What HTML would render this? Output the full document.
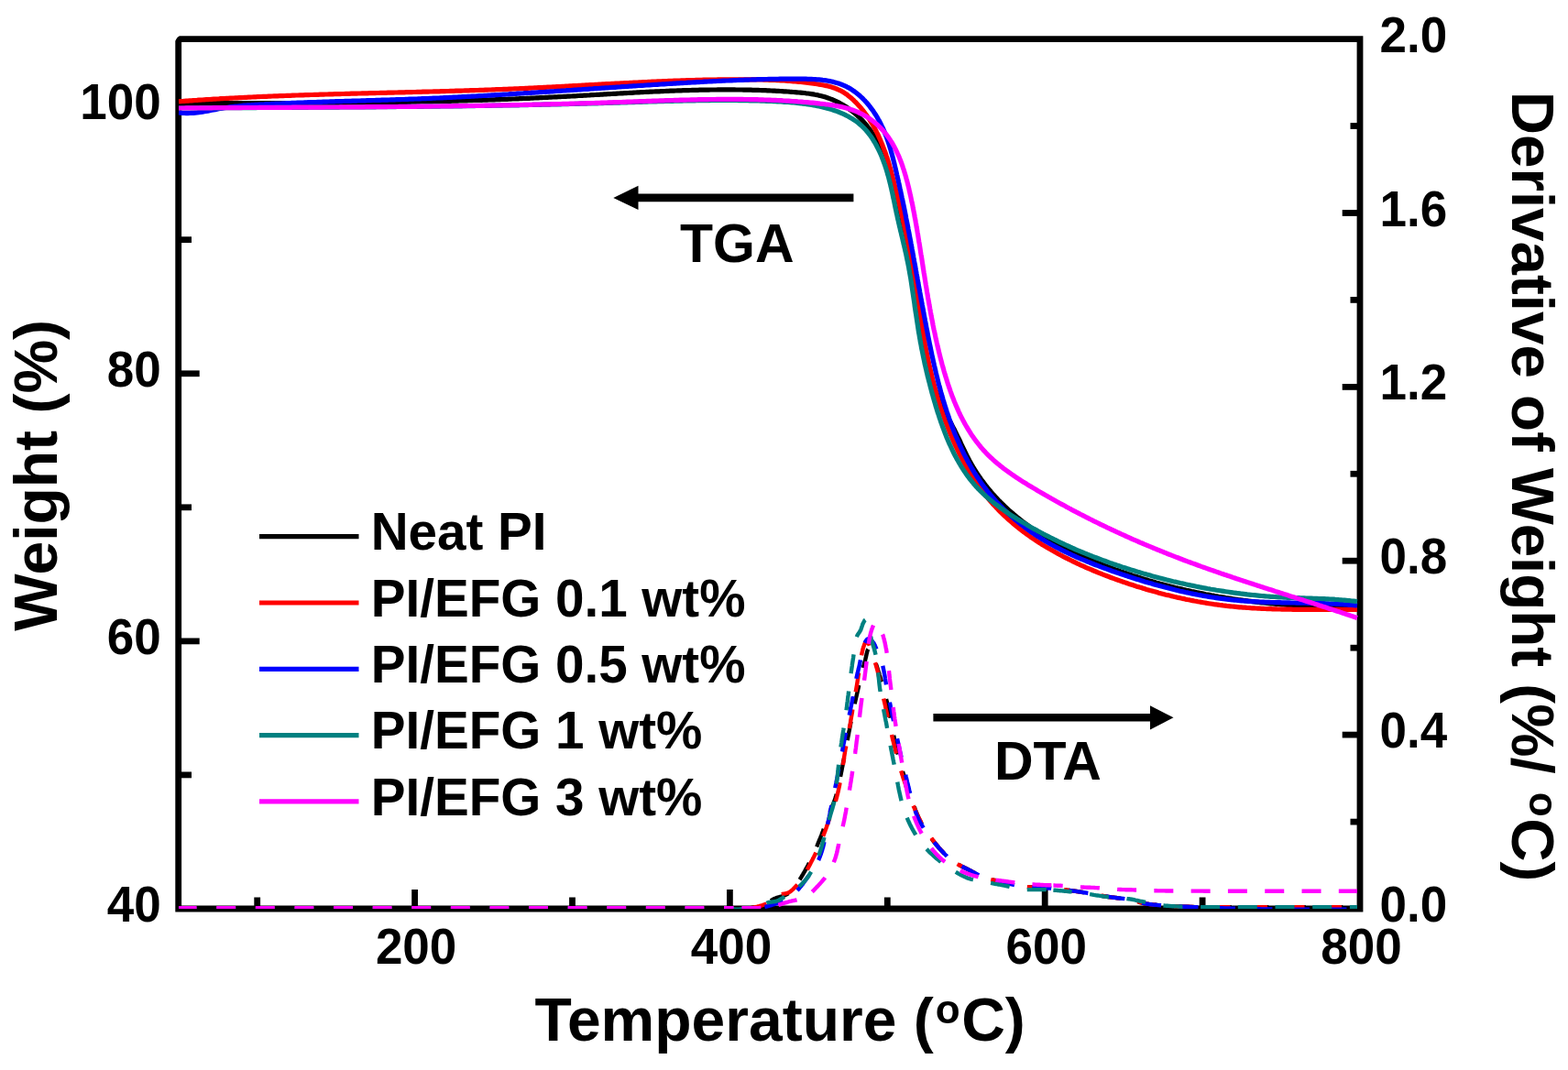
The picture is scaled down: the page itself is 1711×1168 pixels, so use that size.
<!DOCTYPE html><html><head><meta charset="utf-8"><style>html,body{margin:0;padding:0;background:#fff;}svg{display:block}</style></head><body>
<svg width="1711" height="1168" viewBox="0 0 1711 1168">
<rect width="1711" height="1168" fill="#fff"/>
<path d="M194.7,42.6 L1484.0,42.6 L1484.0,992.0 L194.7,992.0 Z" fill="none" stroke="#000" stroke-width="6.8" stroke-linejoin="miter"/>
<path d="M190,38 L197.2,38 Q193,40.5 191.2,44.6 L190,44.6 Z" fill="#fff"/>
<line x1="452.6" y1="992.0" x2="452.6" y2="971.0" stroke="#000" stroke-width="6.8"/>
<line x1="796.4" y1="992.0" x2="796.4" y2="971.0" stroke="#000" stroke-width="6.8"/>
<line x1="1140.2" y1="992.0" x2="1140.2" y2="971.0" stroke="#000" stroke-width="6.8"/>
<line x1="280.7" y1="992.0" x2="280.7" y2="979.5" stroke="#000" stroke-width="6.8"/>
<line x1="624.5" y1="992.0" x2="624.5" y2="979.5" stroke="#000" stroke-width="6.8"/>
<line x1="968.3" y1="992.0" x2="968.3" y2="979.5" stroke="#000" stroke-width="6.8"/>
<line x1="1312.1" y1="992.0" x2="1312.1" y2="979.5" stroke="#000" stroke-width="6.8"/>
<line x1="194.7" y1="699.9" x2="217.7" y2="699.9" stroke="#000" stroke-width="6.8"/>
<line x1="194.7" y1="407.8" x2="217.7" y2="407.8" stroke="#000" stroke-width="6.8"/>
<line x1="194.7" y1="115.6" x2="217.7" y2="115.6" stroke="#000" stroke-width="6.8"/>
<line x1="194.7" y1="845.9" x2="209.0" y2="845.9" stroke="#000" stroke-width="6.8"/>
<line x1="194.7" y1="553.8" x2="209.0" y2="553.8" stroke="#000" stroke-width="6.8"/>
<line x1="194.7" y1="261.7" x2="209.0" y2="261.7" stroke="#000" stroke-width="6.8"/>
<line x1="1484.0" y1="802.1" x2="1464.7" y2="802.1" stroke="#000" stroke-width="6.8"/>
<line x1="1484.0" y1="612.2" x2="1464.7" y2="612.2" stroke="#000" stroke-width="6.8"/>
<line x1="1484.0" y1="422.4" x2="1464.7" y2="422.4" stroke="#000" stroke-width="6.8"/>
<line x1="1484.0" y1="232.5" x2="1464.7" y2="232.5" stroke="#000" stroke-width="6.8"/>
<line x1="1484.0" y1="897.1" x2="1473.5" y2="897.1" stroke="#000" stroke-width="6.8"/>
<line x1="1484.0" y1="707.2" x2="1473.5" y2="707.2" stroke="#000" stroke-width="6.8"/>
<line x1="1484.0" y1="517.3" x2="1473.5" y2="517.3" stroke="#000" stroke-width="6.8"/>
<line x1="1484.0" y1="327.4" x2="1473.5" y2="327.4" stroke="#000" stroke-width="6.8"/>
<line x1="1484.0" y1="137.5" x2="1473.5" y2="137.5" stroke="#000" stroke-width="6.8"/>
<defs><clipPath id="pc"><rect x="194.7" y="42.6" width="1289.3" height="949.4"/></clipPath></defs>
<g clip-path="url(#pc)">
<path d="M195.0,994.6L205.4,994.6L215.6,994.6L225.8,994.6L235.9,994.6L246.0,994.6L255.9,994.6L265.8,994.6L275.6,994.6L285.3,994.6L294.9,994.6L304.4,994.6L313.9,994.6L323.3,994.6L332.6,994.6L341.8,994.6L350.9,994.6L360.0,994.6L368.9,994.6L377.8,994.6L386.6,994.6L395.3,994.6L403.9,994.6L412.5,994.6L420.9,994.6L429.3,994.6L437.6,994.6L445.8,994.6L453.9,994.6L461.9,994.6L469.9,994.6L477.7,994.6L485.5,994.6L493.2,994.6L500.8,994.6L508.3,994.6L515.7,994.6L523.1,994.6L530.3,994.6L537.5,994.6L544.5,994.6L551.5,994.6L558.4,994.6L565.2,994.6L572.0,994.6L578.6,994.6L585.1,994.6L591.6,994.6L598.0,994.6L604.2,994.6L610.4,994.6L616.5,994.6L622.5,994.6L628.4,994.6L634.3,994.6L640.0,994.6L645.7,994.6L651.2,994.6L656.7,994.6L662.0,994.6L667.3,994.6L672.5,994.6L677.6,994.6L682.6,994.6L687.5,994.6L692.3,994.6L697.1,994.6L701.7,994.6L706.2,994.6L710.7,994.6L715.1,994.6L719.3,994.6L723.5,994.6L727.6,994.6L731.5,994.6L735.4,994.6L739.2,994.6L742.9,994.6L746.5,994.6L750.0,994.6L753.4,994.6L756.7,994.6L759.9,994.6L763.1,994.6L766.1,994.6L769.0,994.6L771.8,994.6L774.6,994.6L777.2,994.6L779.8,994.6L782.2,994.6L784.6,994.6L786.8,994.6L789.0,994.6L791.0,994.6L793.0,994.6L794.8,994.5L796.6,994.4L798.4,994.3L800.0,994.2L801.6,994.1L803.1,993.9L804.5,993.7L805.9,993.6L807.3,993.4L808.6,993.2L809.9,992.9L811.1,992.7L812.4,992.5L813.5,992.3L814.7,992.0L815.9,991.8L817.0,991.6L818.2,991.3L819.3,991.1L820.5,990.9L821.6,990.7L822.7,990.5L823.8,990.2L824.9,990.0L825.9,989.8L826.9,989.5L827.9,989.3L828.9,989.0L829.9,988.7L830.8,988.5L831.7,988.2L832.6,987.9L833.5,987.6L834.4,987.2L835.3,986.9L836.1,986.5L836.9,986.1L837.7,985.6L838.4,985.2L839.2,984.7L839.9,984.2L840.6,983.7L841.3,983.2L842.1,982.7L842.8,982.2L843.6,981.7L844.4,981.3L845.2,980.9L846.1,980.6L847.0,980.2L847.9,979.9L848.8,979.6L849.8,979.3L850.8,979.0L851.8,978.8L852.7,978.5L853.7,978.2L854.6,977.9L855.5,977.6L856.4,977.2L857.2,976.9L858.0,976.5L858.8,976.1L859.5,975.7L860.2,975.2L860.9,974.7L861.5,974.2L862.2,973.7L862.8,973.2L863.4,972.6L864.0,972.0L864.6,971.4L865.2,970.8L865.8,970.2L866.4,969.5L867.0,968.9L867.6,968.1L868.1,967.4L868.7,966.6L869.2,965.8L869.8,965.0L870.3,964.1L870.8,963.3L871.4,962.4L871.9,961.5L872.4,960.6L873.0,959.7L873.5,958.8L874.1,957.9L874.6,956.9L875.2,956.0L875.8,955.0L876.4,954.1L876.9,953.1L877.5,952.1L878.1,951.1L878.7,950.0L879.3,949.0L879.8,947.9L880.4,946.9L881.0,945.8L881.6,944.7L882.2,943.6L882.7,942.5L883.3,941.4L883.9,940.3L884.4,939.1L885.0,938.0L885.5,936.8L886.1,935.6L886.7,934.4L887.2,933.2L887.8,932.0L888.4,930.7L888.9,929.5L889.5,928.2L890.0,926.9L890.6,925.7L891.1,924.4L891.7,923.1L892.2,921.8L892.7,920.5L893.3,919.2L893.8,917.9L894.3,916.6L894.9,915.4L895.4,914.1L895.9,912.8L896.4,911.5L896.9,910.1L897.4,908.8L897.9,907.5L898.4,906.1L898.9,904.8L899.4,903.4L899.9,902.1L900.4,900.7L900.9,899.4L901.3,898.0L901.8,896.7L902.3,895.4L902.8,894.1L903.2,892.8L903.7,891.5L904.2,890.3L904.6,889.0L905.1,887.8L905.5,886.6L906.0,885.5L906.4,884.4L906.8,883.3L907.3,882.2L907.7,881.2L908.1,880.1L908.6,879.1L909.0,878.0L909.4,877.0L909.8,875.9L910.2,874.8L910.7,873.7L911.1,872.5L911.5,871.4L911.8,870.1L912.2,868.9L912.6,867.5L913.0,866.2L913.4,864.8L913.7,863.3L914.1,861.8L914.5,860.3L914.8,858.7L915.2,857.1L915.5,855.5L915.9,853.8L916.2,852.2L916.6,850.5L916.9,848.8L917.2,847.0L917.6,845.3L917.9,843.6L918.3,841.8L918.6,840.1L918.9,838.3L919.3,836.5L919.6,834.8L919.9,833.1L920.3,831.3L920.6,829.6L921.0,827.9L921.3,826.2L921.6,824.5L922.0,822.8L922.3,821.1L922.6,819.4L923.0,817.7L923.3,815.9L923.6,814.2L923.9,812.4L924.3,810.7L924.6,808.9L924.9,807.2L925.2,805.4L925.5,803.7L925.9,801.9L926.2,800.2L926.5,798.4L926.9,796.7L927.2,794.9L927.5,793.2L927.9,791.5L928.2,789.7L928.5,788.0L928.9,786.3L929.2,784.5L929.6,782.8L929.9,781.1L930.3,779.4L930.7,777.6L931.0,775.8L931.4,774.0L931.8,772.2L932.2,770.4L932.6,768.6L933.0,766.8L933.4,765.0L933.8,763.2L934.2,761.4L934.6,759.7L935.0,757.9L935.4,756.2L935.8,754.5L936.2,752.8L936.6,751.1L936.9,749.5L937.3,747.9L937.7,746.3L938.0,744.8L938.4,743.3L938.7,741.9L939.1,740.5L939.4,739.2L939.7,737.9L940.0,736.6L940.3,735.4L940.6,734.2L940.9,733.1L941.1,731.9L941.4,730.8L941.7,729.7L942.0,728.6L942.2,727.5L942.5,726.5L942.8,725.5L943.1,724.4L943.3,723.4L943.6,722.4L943.9,721.4L944.2,720.4L944.4,719.3L944.7,718.1L945.0,716.9L945.3,715.6L945.5,714.4L945.8,713.2L946.1,712.1L946.3,711.1L946.6,710.2L946.9,709.4L947.2,708.7L947.5,708.3L947.8,708.0L948.2,708.0L948.5,708.2L948.9,708.6L949.3,709.1L949.7,709.7L950.1,710.4L950.5,711.1L950.9,711.9L951.3,712.7L951.7,713.4L952.1,714.1L952.4,714.8L952.7,715.6L953.1,716.4L953.4,717.2L953.7,718.0L954.0,718.9L954.3,719.8L954.6,720.7L954.9,721.6L955.2,722.5L955.4,723.3L955.7,724.2L956.0,725.1L956.3,725.9L956.6,726.7L956.8,727.5L957.1,728.2L957.3,729.0L957.6,729.8L957.8,730.6L958.1,731.4L958.4,732.2L958.6,733.1L958.9,734.0L959.2,735.0L959.5,736.0L959.8,737.1L960.2,738.3L960.6,739.6L960.9,740.9L961.3,742.2L961.7,743.6L962.2,745.1L962.6,746.6L963.0,748.1L963.5,749.7L963.9,751.3L964.4,753.0L964.8,754.6L965.3,756.3L965.7,758.0L966.1,759.7L966.6,761.4L967.0,763.1L967.5,764.8L967.9,766.5L968.3,768.1L968.7,769.8L969.1,771.4L969.4,773.0L969.8,774.6L970.1,776.3L970.5,777.9L970.8,779.6L971.2,781.2L971.5,782.9L971.8,784.6L972.1,786.3L972.4,788.0L972.7,789.7L973.0,791.4L973.4,793.1L973.7,794.8L974.0,796.5L974.3,798.2L974.6,799.9L974.9,801.6L975.3,803.3L975.6,805.1L976.0,806.8L976.3,808.5L976.7,810.2L977.0,811.9L977.4,813.6L977.8,815.3L978.2,817.0L978.6,818.8L979.1,820.5L979.5,822.2L980.0,823.9L980.4,825.7L980.9,827.4L981.3,829.1L981.8,830.9L982.3,832.6L982.8,834.4L983.3,836.1L983.8,837.8L984.3,839.6L984.8,841.3L985.3,843.0L985.8,844.8L986.4,846.5L986.9,848.2L987.4,849.9L988.0,851.6L988.5,853.3L989.0,855.0L989.6,856.6L990.1,858.3L990.6,859.9L991.2,861.6L991.7,863.2L992.3,864.9L992.8,866.5L993.3,868.1L993.9,869.8L994.4,871.4L995.0,873.0L995.5,874.6L996.1,876.3L996.6,877.9L997.2,879.5L997.8,881.0L998.3,882.6L998.9,884.2L999.5,885.8L1000.2,887.3L1000.8,888.9L1001.5,890.4L1002.1,891.9L1002.8,893.5L1003.5,895.0L1004.2,896.4L1004.9,897.9L1005.7,899.4L1006.5,900.9L1007.4,902.4L1008.3,903.9L1009.3,905.4L1010.3,907.0L1011.3,908.5L1012.4,910.1L1013.5,911.6L1014.7,913.2L1015.8,914.7L1017.0,916.2L1018.1,917.7L1019.3,919.2L1020.5,920.6L1021.6,922.1L1022.8,923.4L1023.9,924.7L1025.0,926.0L1026.1,927.2L1027.2,928.4L1028.2,929.5L1029.1,930.5L1030.1,931.5L1030.9,932.3L1031.7,933.1L1032.5,933.9L1033.2,934.5L1033.8,935.2L1034.5,935.8L1035.1,936.3L1035.7,936.9L1036.3,937.4L1036.9,937.9L1037.5,938.4L1038.1,938.9L1038.8,939.4L1039.5,940.0L1040.3,940.5L1041.1,941.1L1042.0,941.6L1042.9,942.2L1043.8,942.7L1044.8,943.2L1045.7,943.8L1046.8,944.3L1047.8,944.8L1048.8,945.4L1049.9,945.9L1051.0,946.4L1052.0,947.0L1053.1,947.5L1054.2,948.0L1055.3,948.6L1056.4,949.1L1057.4,949.7L1058.5,950.3L1059.7,950.9L1060.8,951.5L1062.0,952.1L1063.2,952.7L1064.4,953.4L1065.6,954.0L1066.8,954.6L1068.0,955.3L1069.3,955.9L1070.5,956.5L1071.7,957.0L1072.8,957.5L1074.0,958.0L1075.1,958.5L1076.3,958.9L1077.4,959.3L1078.4,959.6L1079.4,959.8L1080.4,960.0L1081.4,960.2L1082.3,960.4L1083.2,960.6L1084.1,960.7L1085.0,960.9L1085.9,961.0L1086.8,961.2L1087.7,961.3L1088.6,961.5L1089.6,961.6L1090.6,961.8L1091.6,962.0L1092.7,962.3L1093.9,962.5L1095.0,962.8L1096.3,963.1L1097.5,963.5L1098.8,963.8L1100.1,964.2L1101.4,964.6L1102.7,965.0L1104.1,965.3L1105.4,965.7L1106.8,966.1L1108.1,966.4L1109.5,966.7L1110.8,967.0L1112.2,967.3L1113.5,967.6L1114.8,967.8L1116.1,967.9L1117.3,968.0L1118.5,968.1L1119.7,968.2L1120.9,968.3L1122.1,968.3L1123.3,968.4L1124.5,968.4L1125.7,968.5L1126.8,968.5L1128.0,968.6L1129.2,968.6L1130.4,968.6L1131.5,968.7L1132.7,968.7L1133.9,968.8L1135.1,968.9L1136.3,968.9L1137.5,969.0L1138.7,969.1L1139.9,969.1L1141.1,969.2L1142.3,969.3L1143.5,969.4L1144.8,969.5L1146.0,969.7L1147.3,969.8L1148.5,969.9L1149.7,970.0L1151.0,970.1L1152.2,970.3L1153.4,970.4L1154.7,970.5L1155.9,970.6L1157.1,970.8L1158.4,970.9L1159.6,971.1L1160.8,971.2L1162.0,971.3L1163.2,971.5L1164.4,971.6L1165.6,971.8L1166.7,971.9L1167.9,972.1L1169.1,972.2L1170.3,972.4L1171.4,972.5L1172.6,972.7L1173.8,972.9L1175.0,973.0L1176.2,973.2L1177.4,973.4L1178.7,973.6L1179.9,973.8L1181.2,974.0L1182.5,974.2L1183.8,974.4L1185.1,974.6L1186.5,974.8L1187.8,975.1L1189.2,975.3L1190.6,975.6L1192.0,975.9L1193.4,976.1L1194.9,976.4L1196.3,976.7L1197.7,976.9L1199.1,977.2L1200.5,977.4L1201.9,977.7L1203.3,978.0L1204.7,978.2L1206.1,978.4L1207.4,978.6L1208.8,978.9L1210.1,979.1L1211.4,979.2L1212.7,979.4L1214.0,979.6L1215.3,979.7L1216.6,979.9L1217.9,980.0L1219.1,980.2L1220.4,980.3L1221.7,980.5L1222.9,980.6L1224.2,980.8L1225.4,980.9L1226.6,981.1L1227.8,981.2L1229.1,981.4L1230.2,981.6L1231.4,981.8L1232.6,981.9L1233.8,982.2L1234.9,982.4L1236.0,982.7L1237.1,983.0L1238.2,983.3L1239.3,983.6L1240.4,983.9L1241.5,984.2L1242.5,984.6L1243.6,984.9L1244.6,985.2L1245.7,985.5L1246.8,985.8L1247.9,986.0L1248.9,986.3L1250.0,986.5L1251.2,986.6L1252.3,986.8L1253.4,986.9L1254.5,987.1L1255.6,987.2L1256.7,987.3L1257.8,987.5L1258.9,987.6L1260.0,987.7L1261.2,987.8L1262.3,987.9L1263.4,988.0L1264.6,988.1L1265.8,988.2L1266.9,988.3L1268.1,988.4L1269.3,988.5L1270.5,988.5L1271.7,988.6L1273.0,988.7L1274.2,988.8L1275.4,988.9L1276.7,989.0L1277.9,989.0L1279.2,989.1L1280.4,989.2L1281.7,989.3L1283.0,989.3L1284.3,989.4L1285.6,989.5L1287.0,989.5L1288.3,989.6L1289.7,989.6L1291.1,989.7L1292.5,989.7L1294.0,989.8L1295.5,989.8L1297.0,989.8L1298.5,989.9L1300.0,989.9L1301.5,989.9L1303.0,990.0L1304.6,990.0L1306.1,990.0L1307.7,990.0L1309.3,990.1L1311.0,990.1L1312.6,990.1L1314.3,990.1L1316.0,990.2L1317.7,990.2L1319.5,990.2L1321.2,990.2L1323.1,990.2L1324.9,990.2L1326.8,990.3L1328.7,990.3L1330.7,990.3L1332.7,990.3L1334.7,990.3L1336.8,990.3L1339.0,990.3L1341.1,990.3L1343.4,990.3L1345.6,990.3L1347.9,990.3L1350.3,990.3L1352.7,990.3L1355.1,990.3L1357.6,990.3L1360.1,990.3L1362.6,990.3L1365.2,990.3L1367.9,990.3L1370.6,990.3L1373.3,990.3L1376.0,990.3L1378.8,990.3L1381.7,990.3L1384.6,990.3L1387.5,990.3L1390.5,990.3L1393.5,990.3L1396.5,990.3L1399.6,990.3L1402.7,990.3L1405.9,990.3L1409.1,990.3L1412.3,990.3L1415.6,990.3L1418.9,990.3L1422.3,990.3L1425.7,990.3L1429.1,990.3L1432.6,990.3L1436.1,990.3L1439.6,990.3L1443.2,990.3L1446.8,990.3L1450.5,990.3L1454.1,990.3L1457.9,990.3L1461.6,990.3L1465.4,990.3L1469.3,990.3L1473.1,990.3L1477.1,990.3L1481.0,990.3" fill="none" stroke="#000000" stroke-width="4.4" stroke-dasharray="21.0 19.5" stroke-dashoffset="0.0" stroke-linecap="butt" stroke-linejoin="round"/>
<path d="M195.0,994.6L205.8,994.6L216.4,994.6L227.0,994.6L237.5,994.6L248.0,994.6L258.3,994.6L268.5,994.6L278.7,994.6L288.7,994.6L298.7,994.6L308.6,994.6L318.4,994.6L328.1,994.6L337.7,994.6L347.3,994.6L356.7,994.6L366.0,994.6L375.3,994.6L384.5,994.6L393.5,994.6L402.5,994.6L411.4,994.6L420.2,994.6L428.9,994.6L437.5,994.6L446.1,994.6L454.5,994.6L462.9,994.6L471.1,994.6L479.3,994.6L487.3,994.6L495.3,994.6L503.2,994.6L510.9,994.6L518.6,994.6L526.2,994.6L533.7,994.6L541.1,994.6L548.4,994.6L555.6,994.6L562.8,994.6L569.8,994.6L576.7,994.6L583.5,994.6L590.3,994.6L596.9,994.6L603.5,994.6L609.9,994.6L616.2,994.6L622.5,994.6L628.6,994.6L634.7,994.6L640.7,994.6L646.5,994.6L652.3,994.6L657.9,994.6L663.5,994.6L669.0,994.6L674.3,994.6L679.6,994.6L684.8,994.6L689.8,994.6L694.8,994.6L699.6,994.6L704.4,994.6L709.1,994.6L713.6,994.6L718.1,994.6L722.5,994.6L726.7,994.6L730.9,994.6L734.9,994.6L738.9,994.6L742.7,994.6L746.5,994.6L750.1,994.6L753.6,994.6L757.1,994.6L760.4,994.6L763.6,994.6L766.8,994.6L769.8,994.6L772.7,994.6L775.5,994.6L778.2,994.6L780.8,994.6L783.3,994.6L785.7,994.6L788.0,994.6L790.2,994.6L792.3,994.6L794.2,994.5L796.1,994.5L797.9,994.4L799.7,994.2L801.3,994.1L802.9,993.9L804.4,993.8L805.9,993.6L807.3,993.4L808.7,993.1L810.0,992.9L811.3,992.7L812.5,992.5L813.8,992.2L815.0,992.0L816.2,991.7L817.4,991.5L818.6,991.3L819.8,991.0L821.0,990.8L822.1,990.6L823.2,990.4L824.3,990.1L825.4,989.9L826.4,989.7L827.5,989.4L828.5,989.2L829.4,988.9L830.4,988.6L831.4,988.3L832.4,988.0L833.3,987.6L834.3,987.3L835.3,986.9L836.3,986.4L837.2,985.9L838.2,985.2L839.2,984.5L840.1,983.8L841.1,983.0L842.0,982.2L843.0,981.4L843.9,980.6L844.8,979.9L845.8,979.2L846.7,978.5L847.6,977.9L848.5,977.5L849.4,977.1L850.3,976.8L851.2,976.5L852.1,976.3L853.0,976.1L853.9,975.9L854.8,975.8L855.7,975.6L856.5,975.5L857.4,975.3L858.2,975.1L859.0,974.8L859.8,974.6L860.5,974.3L861.3,973.9L862.0,973.5L862.7,973.0L863.4,972.4L864.0,971.9L864.7,971.3L865.3,970.7L866.0,970.0L866.6,969.4L867.3,968.7L867.9,968.1L868.6,967.4L869.2,966.7L869.9,965.9L870.6,965.1L871.2,964.3L871.9,963.5L872.5,962.6L873.2,961.7L873.8,960.8L874.4,959.9L875.0,959.0L875.6,958.1L876.2,957.2L876.8,956.3L877.3,955.5L877.9,954.6L878.4,953.7L878.9,952.8L879.4,952.0L879.9,951.1L880.4,950.2L880.9,949.3L881.3,948.4L881.8,947.5L882.3,946.6L882.8,945.6L883.3,944.7L883.8,943.7L884.3,942.7L884.8,941.7L885.4,940.7L885.9,939.6L886.5,938.5L887.0,937.4L887.6,936.3L888.2,935.2L888.7,934.1L889.3,932.9L889.8,931.8L890.4,930.7L890.9,929.5L891.4,928.4L892.0,927.3L892.5,926.2L893.0,925.1L893.5,924.0L893.9,922.9L894.4,921.8L894.9,920.8L895.3,919.7L895.8,918.6L896.2,917.6L896.6,916.5L897.1,915.4L897.5,914.4L897.9,913.3L898.4,912.2L898.8,911.1L899.2,910.1L899.6,909.0L900.1,907.9L900.5,906.7L900.9,905.6L901.3,904.5L901.7,903.4L902.1,902.2L902.5,901.1L902.9,899.9L903.3,898.8L903.7,897.6L904.1,896.5L904.5,895.3L904.9,894.2L905.3,893.0L905.7,891.8L906.1,890.7L906.5,889.5L906.9,888.3L907.3,887.1L907.8,886.0L908.2,884.8L908.6,883.6L909.0,882.5L909.4,881.3L909.9,880.1L910.3,878.9L910.7,877.8L911.1,876.6L911.5,875.4L911.9,874.1L912.3,872.9L912.6,871.7L913.0,870.5L913.3,869.2L913.6,867.9L914.0,866.6L914.3,865.3L914.6,864.0L914.9,862.6L915.2,861.3L915.5,859.9L915.8,858.5L916.1,857.1L916.3,855.7L916.6,854.3L916.9,852.9L917.1,851.5L917.4,850.2L917.6,848.8L917.9,847.4L918.1,846.0L918.4,844.7L918.6,843.4L918.8,842.0L919.0,840.7L919.3,839.4L919.5,838.1L919.7,836.8L919.8,835.6L920.0,834.3L920.2,833.0L920.4,831.7L920.6,830.5L920.8,829.2L920.9,827.9L921.1,826.7L921.3,825.4L921.5,824.2L921.7,822.9L921.9,821.7L922.1,820.4L922.3,819.2L922.5,818.0L922.8,816.8L923.0,815.6L923.2,814.4L923.4,813.3L923.7,812.1L923.9,810.9L924.1,809.8L924.4,808.6L924.6,807.4L924.8,806.2L925.1,804.9L925.3,803.7L925.6,802.4L925.8,801.0L926.1,799.7L926.3,798.3L926.6,796.8L926.8,795.3L927.1,793.7L927.4,792.1L927.7,790.5L928.0,788.8L928.2,787.2L928.5,785.5L928.8,783.8L929.1,782.1L929.4,780.4L929.7,778.7L930.0,777.0L930.2,775.3L930.5,773.7L930.8,772.1L931.1,770.5L931.3,768.9L931.6,767.5L931.8,766.0L932.1,764.6L932.3,763.3L932.5,762.0L932.7,760.8L933.0,759.5L933.2,758.3L933.4,757.1L933.6,756.0L933.8,754.8L934.0,753.7L934.2,752.5L934.4,751.4L934.6,750.2L934.8,749.0L935.0,747.9L935.2,746.7L935.4,745.4L935.6,744.2L935.8,742.9L936.0,741.6L936.2,740.3L936.4,739.0L936.6,737.6L936.8,736.3L937.0,734.9L937.2,733.6L937.4,732.3L937.6,730.9L937.8,729.6L938.0,728.3L938.2,727.0L938.4,725.8L938.6,724.5L938.8,723.3L939.0,722.1L939.2,721.0L939.4,719.8L939.6,718.7L939.8,717.5L940.0,716.4L940.1,715.3L940.3,714.2L940.5,713.1L940.7,712.1L941.0,711.0L941.2,710.1L941.4,709.1L941.6,708.3L941.9,707.4L942.1,706.6L942.4,705.8L942.7,705.0L943.0,704.1L943.3,703.3L943.6,702.6L943.9,702.0L944.3,701.5L944.6,701.1L945.0,701.0L945.4,701.1L945.8,701.2L946.3,701.5L946.8,701.8L947.2,702.2L947.6,702.6L948.0,703.0L948.2,703.4L948.5,703.9L948.7,704.5L948.9,705.1L949.0,705.8L949.2,706.5L949.4,707.3L949.6,708.1L949.8,708.9L950.1,709.7L950.4,710.6L950.7,711.5L951.0,712.4L951.4,713.4L951.7,714.4L952.1,715.4L952.5,716.5L953.0,717.6L953.4,718.7L953.8,719.9L954.2,721.1L954.6,722.3L955.0,723.5L955.5,724.8L955.8,726.1L956.2,727.4L956.6,728.8L957.0,730.2L957.4,731.7L957.8,733.2L958.1,734.7L958.5,736.3L958.9,738.0L959.3,739.6L959.7,741.3L960.0,743.1L960.4,744.8L960.8,746.6L961.2,748.3L961.6,750.1L961.9,751.9L962.3,753.7L962.7,755.5L963.1,757.3L963.5,759.1L963.9,760.9L964.2,762.6L964.6,764.4L965.0,766.1L965.4,767.8L965.8,769.5L966.2,771.3L966.5,773.0L966.9,774.7L967.3,776.5L967.7,778.2L968.1,780.0L968.4,781.7L968.8,783.5L969.2,785.3L969.6,787.0L970.0,788.8L970.4,790.6L970.8,792.3L971.2,794.1L971.5,795.9L971.9,797.6L972.4,799.4L972.8,801.2L973.2,802.9L973.6,804.7L974.0,806.4L974.4,808.2L974.9,809.9L975.3,811.7L975.7,813.4L976.2,815.2L976.6,816.9L977.1,818.6L977.5,820.4L977.9,822.1L978.4,823.8L978.8,825.6L979.3,827.3L979.8,829.0L980.2,830.8L980.7,832.5L981.2,834.2L981.7,836.0L982.2,837.7L982.7,839.5L983.2,841.2L983.7,843.0L984.2,844.7L984.8,846.5L985.3,848.2L985.9,850.0L986.5,851.8L987.1,853.5L987.7,855.3L988.3,857.1L988.9,859.0L989.5,860.8L990.2,862.7L990.9,864.5L991.5,866.4L992.2,868.2L992.9,870.1L993.6,871.9L994.3,873.8L995.1,875.6L995.8,877.5L996.5,879.3L997.3,881.1L998.1,883.0L998.9,884.8L999.7,886.5L1000.5,888.3L1001.3,890.0L1002.1,891.7L1002.9,893.4L1003.8,895.1L1004.7,896.7L1005.5,898.3L1006.4,899.9L1007.4,901.6L1008.4,903.2L1009.4,904.8L1010.5,906.5L1011.6,908.1L1012.7,909.8L1013.8,911.4L1015.0,913.1L1016.2,914.7L1017.4,916.3L1018.6,917.8L1019.8,919.4L1020.9,920.9L1022.1,922.3L1023.3,923.7L1024.4,925.1L1025.5,926.4L1026.6,927.6L1027.6,928.8L1028.6,929.9L1029.6,931.0L1030.5,931.9L1031.4,932.8L1032.2,933.6L1032.9,934.3L1033.6,935.0L1034.3,935.6L1034.9,936.2L1035.5,936.8L1036.2,937.3L1036.8,937.8L1037.4,938.4L1038.1,938.9L1038.8,939.4L1039.5,940.0L1040.4,940.5L1041.2,941.1L1042.1,941.7L1043.1,942.3L1044.0,942.8L1045.0,943.4L1046.1,943.9L1047.1,944.5L1048.2,945.1L1049.3,945.6L1050.4,946.2L1051.5,946.7L1052.6,947.3L1053.8,947.8L1054.9,948.4L1056.0,948.9L1057.1,949.5L1058.3,950.1L1059.4,950.7L1060.6,951.4L1061.9,952.0L1063.1,952.7L1064.3,953.3L1065.6,954.0L1066.9,954.7L1068.1,955.3L1069.4,955.9L1070.6,956.5L1071.9,957.1L1073.1,957.7L1074.3,958.2L1075.5,958.6L1076.6,959.0L1077.8,959.4L1078.9,959.7L1079.9,959.9L1080.9,960.1L1081.9,960.3L1082.8,960.5L1083.8,960.7L1084.7,960.8L1085.6,961.0L1086.6,961.1L1087.5,961.3L1088.5,961.4L1089.5,961.6L1090.5,961.8L1091.6,962.0L1092.7,962.3L1093.9,962.5L1095.1,962.8L1096.4,963.2L1097.7,963.5L1099.0,963.9L1100.4,964.3L1101.7,964.7L1103.1,965.1L1104.5,965.5L1106.0,965.9L1107.4,966.2L1108.8,966.6L1110.2,966.9L1111.6,967.2L1112.9,967.5L1114.3,967.7L1115.6,967.9L1116.9,968.0L1118.2,968.1L1119.5,968.2L1120.7,968.2L1122.0,968.3L1123.2,968.4L1124.4,968.4L1125.7,968.5L1126.9,968.5L1128.1,968.6L1129.3,968.6L1130.5,968.7L1131.7,968.7L1133.0,968.8L1134.2,968.8L1135.4,968.9L1136.7,968.9L1137.9,969.0L1139.2,969.1L1140.4,969.2L1141.7,969.3L1143.0,969.4L1144.3,969.5L1145.5,969.6L1146.8,969.7L1148.1,969.8L1149.4,970.0L1150.7,970.1L1152.0,970.2L1153.3,970.4L1154.6,970.5L1155.8,970.6L1157.1,970.8L1158.4,970.9L1159.7,971.1L1160.9,971.2L1162.2,971.3L1163.4,971.5L1164.6,971.6L1165.9,971.8L1167.1,972.0L1168.3,972.1L1169.5,972.3L1170.7,972.4L1172.0,972.6L1173.2,972.8L1174.5,973.0L1175.7,973.2L1177.0,973.3L1178.2,973.5L1179.5,973.7L1180.9,973.9L1182.2,974.1L1183.6,974.3L1184.9,974.6L1186.3,974.8L1187.8,975.1L1189.2,975.3L1190.7,975.6L1192.1,975.9L1193.6,976.1L1195.1,976.4L1196.5,976.7L1198.0,977.0L1199.5,977.3L1200.9,977.5L1202.4,977.8L1203.8,978.0L1205.3,978.3L1206.7,978.5L1208.1,978.8L1209.5,979.0L1210.8,979.2L1212.2,979.3L1213.5,979.5L1214.9,979.7L1216.2,979.9L1217.6,980.0L1218.9,980.2L1220.2,980.3L1221.5,980.5L1222.8,980.6L1224.1,980.8L1225.4,980.9L1226.7,981.1L1228.0,981.2L1229.2,981.4L1230.5,981.6L1231.7,981.8L1232.9,982.0L1234.1,982.2L1235.3,982.5L1236.4,982.8L1237.6,983.1L1238.7,983.4L1239.8,983.7L1241.0,984.1L1242.1,984.4L1243.2,984.7L1244.3,985.1L1245.4,985.4L1246.5,985.7L1247.6,986.0L1248.7,986.2L1249.9,986.4L1251.0,986.6L1252.2,986.8L1253.3,986.9L1254.5,987.1L1255.6,987.2L1256.8,987.4L1258.0,987.5L1259.1,987.6L1260.3,987.7L1261.5,987.8L1262.6,987.9L1263.8,988.0L1265.0,988.1L1266.2,988.2L1267.5,988.3L1268.7,988.4L1270.0,988.5L1271.2,988.6L1272.5,988.7L1273.8,988.8L1275.0,988.8L1276.3,988.9L1277.6,989.0L1278.9,989.1L1280.2,989.2L1281.6,989.3L1282.9,989.3L1284.3,989.4L1285.6,989.5L1287.0,989.5L1288.4,989.6L1289.9,989.6L1291.3,989.7L1292.8,989.7L1294.3,989.8L1295.9,989.8L1297.4,989.8L1299.0,989.9L1300.6,989.9L1302.2,989.9L1303.8,990.0L1305.4,990.0L1307.0,990.0L1308.7,990.1L1310.4,990.1L1312.1,990.1L1313.8,990.1L1315.6,990.2L1317.4,990.2L1319.2,990.2L1321.0,990.2L1322.9,990.2L1324.9,990.2L1326.8,990.3L1328.8,990.3L1330.9,990.3L1332.9,990.3L1335.1,990.3L1337.3,990.3L1339.5,990.3L1341.8,990.3L1344.1,990.3L1346.5,990.3L1348.9,990.3L1351.3,990.3L1353.8,990.3L1356.4,990.3L1359.0,990.3L1361.6,990.3L1364.3,990.3L1367.0,990.3L1369.8,990.3L1372.6,990.3L1375.5,990.3L1378.4,990.3L1381.4,990.3L1384.4,990.3L1387.4,990.3L1390.5,990.3L1393.6,990.3L1396.8,990.3L1400.0,990.3L1403.2,990.3L1406.5,990.3L1409.9,990.3L1413.2,990.3L1416.7,990.3L1420.1,990.3L1423.6,990.3L1427.2,990.3L1430.7,990.3L1434.4,990.3L1438.0,990.3L1441.7,990.3L1445.5,990.3L1449.3,990.3L1453.1,990.3L1457.0,990.3L1460.9,990.3L1464.8,990.3L1468.8,990.3L1472.8,990.3L1476.9,990.3L1481.0,990.3" fill="none" stroke="#ff0000" stroke-width="4.4" stroke-dasharray="21.0 19.5" stroke-dashoffset="26.5" stroke-linecap="butt" stroke-linejoin="round"/>
<path d="M195.0,994.6L205.7,994.6L216.3,994.6L226.9,994.6L237.3,994.6L247.7,994.6L258.0,994.6L268.2,994.6L278.3,994.6L288.4,994.6L298.3,994.6L308.2,994.6L317.9,994.6L327.6,994.6L337.2,994.6L346.7,994.6L356.1,994.6L365.5,994.6L374.7,994.6L383.9,994.6L392.9,994.6L401.9,994.6L410.8,994.6L419.6,994.6L428.3,994.6L436.9,994.6L445.5,994.6L453.9,994.6L462.3,994.6L470.5,994.6L478.7,994.6L486.8,994.6L494.8,994.6L502.7,994.6L510.5,994.6L518.2,994.6L525.8,994.6L533.3,994.6L540.8,994.6L548.1,994.6L555.4,994.6L562.5,994.6L569.6,994.6L576.6,994.6L583.5,994.6L590.3,994.6L597.0,994.6L603.6,994.6L610.1,994.6L616.5,994.6L622.8,994.6L629.0,994.6L635.1,994.6L641.2,994.6L647.1,994.6L653.0,994.6L658.7,994.6L664.3,994.6L669.9,994.6L675.4,994.6L680.7,994.6L686.0,994.6L691.1,994.6L696.2,994.6L701.2,994.6L706.1,994.6L710.8,994.6L715.5,994.6L720.1,994.6L724.6,994.6L729.0,994.6L733.2,994.6L737.4,994.6L741.5,994.6L745.5,994.6L749.4,994.6L753.2,994.6L756.8,994.6L760.4,994.6L763.9,994.6L767.3,994.6L770.6,994.6L773.8,994.6L776.8,994.6L779.8,994.6L782.7,994.6L785.5,994.6L788.1,994.6L790.7,994.6L793.2,994.6L795.5,994.6L797.8,994.6L800.0,994.6L802.0,994.6L804.0,994.5L805.9,994.5L807.6,994.4L809.4,994.3L811.0,994.1L812.6,994.0L814.1,993.8L815.5,993.6L816.9,993.4L818.3,993.2L819.6,993.0L820.9,992.8L822.1,992.5L823.4,992.3L824.6,992.1L825.8,991.8L827.0,991.6L828.1,991.4L829.3,991.1L830.5,990.9L831.6,990.7L832.8,990.5L833.8,990.2L834.9,990.0L835.9,989.7L836.9,989.5L837.9,989.2L838.9,988.9L839.8,988.6L840.8,988.4L841.7,988.1L842.7,987.7L843.7,987.4L844.7,987.1L845.7,986.8L846.7,986.4L847.7,986.1L848.8,985.7L849.8,985.3L850.9,984.9L851.9,984.5L852.9,984.0L853.9,983.6L854.9,983.1L855.9,982.7L856.9,982.2L857.8,981.7L858.7,981.2L859.6,980.7L860.5,980.2L861.3,979.7L862.1,979.1L862.8,978.6L863.6,978.0L864.3,977.4L865.1,976.8L865.8,976.1L866.5,975.5L867.2,974.8L867.9,974.1L868.6,973.4L869.3,972.7L870.0,972.0L870.7,971.3L871.4,970.5L872.1,969.7L872.8,968.8L873.6,968.0L874.3,967.1L875.0,966.2L875.7,965.3L876.4,964.4L877.0,963.4L877.7,962.5L878.4,961.6L879.1,960.6L879.8,959.7L880.5,958.7L881.1,957.8L881.8,956.9L882.5,955.9L883.2,955.0L883.9,954.0L884.6,953.1L885.3,952.1L886.0,951.2L886.7,950.2L887.4,949.2L888.1,948.2L888.7,947.2L889.4,946.2L890.0,945.2L890.5,944.2L891.1,943.2L891.6,942.2L892.1,941.2L892.6,940.2L893.0,939.2L893.5,938.2L893.9,937.1L894.3,936.1L894.7,935.1L895.1,934.1L895.5,933.0L895.9,931.9L896.2,930.9L896.6,929.8L896.9,928.7L897.3,927.5L897.6,926.3L898.0,925.2L898.3,923.9L898.6,922.7L898.9,921.4L899.2,920.1L899.5,918.8L899.8,917.5L900.1,916.1L900.4,914.7L900.6,913.3L900.9,911.9L901.2,910.5L901.4,909.0L901.7,907.5L902.0,906.1L902.3,904.6L902.6,903.0L902.8,901.5L903.1,899.9L903.4,898.4L903.8,896.8L904.1,895.2L904.4,893.6L904.8,891.9L905.1,890.2L905.5,888.5L905.8,886.8L906.2,885.0L906.5,883.2L906.9,881.4L907.3,879.6L907.7,877.7L908.1,875.9L908.4,874.0L908.8,872.1L909.2,870.2L909.6,868.3L910.0,866.5L910.4,864.6L910.8,862.7L911.1,860.8L911.5,858.9L911.9,857.0L912.3,855.2L912.6,853.3L913.0,851.5L913.4,849.7L913.7,847.9L914.1,846.1L914.4,844.3L914.8,842.5L915.1,840.7L915.5,838.9L915.8,837.2L916.1,835.4L916.5,833.6L916.8,831.8L917.2,830.0L917.5,828.2L917.8,826.5L918.2,824.7L918.5,822.9L918.8,821.2L919.2,819.4L919.5,817.6L919.8,815.8L920.2,814.1L920.5,812.3L920.9,810.6L921.2,808.8L921.5,807.0L921.9,805.3L922.2,803.5L922.6,801.8L922.9,800.0L923.3,798.2L923.6,796.4L924.0,794.6L924.3,792.8L924.7,790.9L925.1,789.1L925.4,787.3L925.8,785.5L926.2,783.7L926.5,781.9L926.9,780.1L927.2,778.3L927.6,776.5L927.9,774.8L928.3,773.1L928.6,771.4L929.0,769.7L929.3,768.1L929.6,766.5L929.9,764.9L930.2,763.4L930.5,761.9L930.8,760.4L931.0,759.0L931.3,757.6L931.6,756.2L931.8,754.8L932.1,753.4L932.3,752.1L932.5,750.8L932.8,749.5L933.0,748.2L933.2,747.0L933.5,745.7L933.7,744.5L933.9,743.3L934.2,742.1L934.4,741.0L934.6,739.8L934.9,738.7L935.1,737.6L935.3,736.5L935.6,735.4L935.8,734.4L936.1,733.4L936.3,732.5L936.5,731.5L936.8,730.5L937.0,729.6L937.2,728.6L937.5,727.7L937.7,726.7L937.9,725.8L938.1,724.8L938.3,723.8L938.5,722.8L938.7,721.7L938.9,720.7L939.1,719.6L939.3,718.5L939.4,717.4L939.6,716.3L939.8,715.2L939.9,714.2L940.1,713.2L940.3,712.1L940.5,711.2L940.7,710.2L940.9,709.3L941.1,708.5L941.4,707.7L941.6,706.8L941.9,706.0L942.1,705.2L942.4,704.5L942.7,703.7L943.0,703.0L943.3,702.4L943.6,701.8L943.9,701.2L944.2,700.6L944.6,700.0L944.9,699.5L945.3,698.9L945.7,698.4L946.0,698.0L946.4,697.7L946.8,697.5L947.3,697.5L947.7,697.6L948.2,697.7L948.6,697.9L949.1,698.1L949.5,698.3L950.0,698.5L950.4,698.7L950.9,699.1L951.3,699.4L951.7,699.9L952.1,700.3L952.5,700.8L952.9,701.3L953.3,701.8L953.7,702.4L954.0,703.0L954.3,703.6L954.7,704.3L955.0,705.1L955.3,705.8L955.6,706.6L955.9,707.4L956.2,708.2L956.5,708.9L956.9,709.7L957.2,710.5L957.6,711.2L958.0,712.0L958.3,712.7L958.7,713.4L959.1,714.2L959.5,714.9L959.9,715.7L960.2,716.5L960.6,717.4L961.0,718.3L961.3,719.2L961.7,720.2L962.0,721.3L962.3,722.5L962.6,723.7L962.9,725.0L963.2,726.3L963.5,727.7L963.8,729.2L964.1,730.6L964.4,732.2L964.7,733.7L965.0,735.3L965.3,737.0L965.6,738.6L965.8,740.3L966.1,742.0L966.4,743.7L966.7,745.4L967.0,747.0L967.3,748.7L967.7,750.4L968.0,752.1L968.3,753.7L968.6,755.4L969.0,757.1L969.3,758.8L969.7,760.6L970.0,762.3L970.4,764.1L970.7,765.9L971.1,767.7L971.5,769.5L971.8,771.4L972.2,773.2L972.6,775.1L973.0,776.9L973.3,778.8L973.7,780.7L974.1,782.5L974.5,784.4L974.9,786.3L975.2,788.1L975.6,790.0L976.0,791.9L976.4,793.7L976.8,795.6L977.2,797.4L977.6,799.2L978.0,801.0L978.4,802.9L978.7,804.7L979.1,806.5L979.5,808.3L979.9,810.1L980.3,812.0L980.7,813.8L981.1,815.6L981.5,817.4L981.9,819.2L982.3,821.1L982.7,822.9L983.1,824.7L983.5,826.5L983.9,828.3L984.4,830.1L984.8,831.9L985.2,833.8L985.6,835.6L986.1,837.4L986.5,839.2L986.9,841.0L987.4,842.8L987.8,844.5L988.3,846.3L988.7,848.1L989.2,849.9L989.6,851.7L990.0,853.5L990.5,855.3L990.9,857.1L991.3,858.9L991.8,860.7L992.2,862.5L992.7,864.3L993.1,866.1L993.6,867.9L994.0,869.7L994.5,871.4L995.0,873.2L995.5,875.0L996.0,876.7L996.5,878.5L997.0,880.2L997.6,881.9L998.2,883.7L998.8,885.4L999.4,887.1L1000.0,888.7L1000.7,890.4L1001.4,892.0L1002.1,893.7L1002.9,895.4L1003.8,897.1L1004.8,898.9L1005.9,900.6L1006.9,902.4L1008.1,904.2L1009.3,906.0L1010.5,907.8L1011.8,909.6L1013.1,911.3L1014.4,913.1L1015.7,914.8L1017.0,916.5L1018.3,918.1L1019.6,919.7L1020.9,921.3L1022.2,922.8L1023.5,924.3L1024.7,925.7L1025.9,927.0L1027.0,928.3L1028.1,929.4L1029.2,930.5L1030.1,931.5L1031.1,932.5L1031.9,933.3L1032.7,934.0L1033.4,934.7L1034.0,935.4L1034.7,936.0L1035.3,936.5L1035.9,937.1L1036.5,937.6L1037.1,938.1L1037.8,938.6L1038.4,939.1L1039.1,939.7L1039.9,940.2L1040.7,940.8L1041.6,941.4L1042.5,941.9L1043.4,942.5L1044.4,943.0L1045.4,943.6L1046.4,944.1L1047.5,944.7L1048.5,945.2L1049.6,945.8L1050.7,946.3L1051.8,946.9L1052.9,947.4L1054.0,948.0L1055.1,948.5L1056.2,949.1L1057.3,949.6L1058.5,950.2L1059.6,950.8L1060.8,951.5L1062.0,952.1L1063.2,952.8L1064.5,953.4L1065.7,954.1L1067.0,954.7L1068.2,955.4L1069.4,956.0L1070.7,956.6L1071.9,957.1L1073.1,957.7L1074.3,958.2L1075.5,958.6L1076.6,959.0L1077.7,959.4L1078.8,959.6L1079.8,959.9L1080.8,960.1L1081.8,960.3L1082.7,960.5L1083.6,960.7L1084.6,960.8L1085.5,961.0L1086.4,961.1L1087.3,961.3L1088.3,961.4L1089.2,961.6L1090.3,961.8L1091.3,962.0L1092.4,962.2L1093.6,962.4L1094.8,962.7L1096.0,963.1L1097.3,963.4L1098.6,963.8L1099.9,964.1L1101.2,964.5L1102.6,964.9L1104.0,965.3L1105.4,965.7L1106.8,966.1L1108.1,966.4L1109.5,966.8L1110.9,967.1L1112.3,967.3L1113.6,967.6L1114.9,967.8L1116.2,967.9L1117.5,968.0L1118.8,968.1L1120.0,968.2L1121.2,968.3L1122.5,968.3L1123.7,968.4L1124.9,968.4L1126.1,968.5L1127.3,968.5L1128.5,968.6L1129.7,968.6L1130.9,968.7L1132.1,968.7L1133.3,968.8L1134.5,968.8L1135.7,968.9L1136.9,969.0L1138.2,969.0L1139.4,969.1L1140.7,969.2L1141.9,969.3L1143.2,969.4L1144.4,969.5L1145.7,969.6L1147.0,969.7L1148.2,969.9L1149.5,970.0L1150.8,970.1L1152.0,970.2L1153.3,970.4L1154.6,970.5L1155.8,970.6L1157.1,970.8L1158.3,970.9L1159.6,971.1L1160.8,971.2L1162.1,971.3L1163.3,971.5L1164.5,971.6L1165.7,971.8L1166.9,971.9L1168.1,972.1L1169.3,972.3L1170.5,972.4L1171.7,972.6L1172.9,972.8L1174.2,972.9L1175.4,973.1L1176.6,973.3L1177.9,973.5L1179.2,973.7L1180.5,973.9L1181.8,974.1L1183.1,974.3L1184.5,974.5L1185.8,974.7L1187.2,975.0L1188.6,975.2L1190.1,975.5L1191.5,975.8L1192.9,976.0L1194.4,976.3L1195.8,976.6L1197.3,976.8L1198.8,977.1L1200.2,977.4L1201.6,977.6L1203.1,977.9L1204.5,978.2L1205.9,978.4L1207.3,978.6L1208.7,978.8L1210.0,979.0L1211.3,979.2L1212.7,979.4L1214.0,979.6L1215.3,979.7L1216.7,979.9L1218.0,980.1L1219.3,980.2L1220.6,980.4L1221.9,980.5L1223.2,980.6L1224.4,980.8L1225.7,980.9L1227.0,981.1L1228.2,981.3L1229.4,981.4L1230.7,981.6L1231.9,981.8L1233.1,982.0L1234.2,982.3L1235.4,982.5L1236.5,982.8L1237.7,983.1L1238.8,983.4L1239.9,983.7L1241.0,984.1L1242.1,984.4L1243.2,984.7L1244.3,985.1L1245.4,985.4L1246.4,985.7L1247.5,986.0L1248.7,986.2L1249.8,986.4L1250.9,986.6L1252.0,986.8L1253.2,986.9L1254.3,987.1L1255.5,987.2L1256.6,987.3L1257.7,987.5L1258.9,987.6L1260.0,987.7L1261.2,987.8L1262.3,987.9L1263.5,988.0L1264.7,988.1L1265.9,988.2L1267.1,988.3L1268.3,988.4L1269.5,988.5L1270.8,988.6L1272.0,988.6L1273.3,988.7L1274.5,988.8L1275.8,988.9L1277.0,988.9L1278.3,989.0L1279.6,989.1L1280.9,989.1L1282.2,989.2L1283.5,989.3L1284.8,989.3L1286.2,989.4L1287.6,989.5L1289.0,989.5L1290.4,989.6L1291.9,989.7L1293.4,989.7L1294.9,989.8L1296.5,989.9L1298.1,989.9L1299.8,990.0L1301.5,990.1L1303.2,990.1L1305.0,990.2L1306.8,990.3L1308.6,990.4L1310.4,990.4L1312.3,990.5L1314.2,990.6L1316.2,990.7L1318.1,990.7L1320.1,990.8L1322.0,990.9L1324.0,991.0L1326.0,991.0L1328.0,991.1L1330.0,991.2L1332.0,991.2L1334.0,991.3L1336.0,991.4L1338.0,991.4L1340.0,991.5L1341.9,991.5L1343.9,991.6L1345.8,991.6L1347.7,991.7L1349.7,991.7L1351.6,991.8L1353.5,991.8L1355.4,991.9L1357.3,991.9L1359.2,992.0L1361.2,992.0L1363.1,992.1L1365.0,992.1L1366.9,992.2L1368.9,992.2L1370.8,992.2L1372.7,992.3L1374.7,992.3L1376.7,992.4L1378.7,992.4L1380.6,992.4L1382.6,992.5L1384.7,992.5L1386.7,992.5L1388.8,992.5L1390.8,992.6L1392.9,992.6L1395.0,992.6L1397.1,992.6L1399.3,992.6L1401.5,992.6L1403.6,992.6L1405.8,992.6L1408.0,992.6L1410.3,992.6L1412.5,992.6L1414.8,992.6L1417.0,992.6L1419.3,992.6L1421.6,992.6L1423.9,992.6L1426.3,992.6L1428.6,992.6L1431.0,992.6L1433.3,992.6L1435.7,992.6L1438.1,992.6L1440.5,992.6L1443.0,992.6L1445.4,992.6L1447.9,992.6L1450.3,992.6L1452.8,992.6L1455.3,992.6L1457.8,992.6L1460.3,992.6L1462.9,992.6L1465.4,992.6L1468.0,992.6L1470.6,992.6L1473.1,992.6L1475.8,992.6L1478.4,992.6L1481.0,992.6" fill="none" stroke="#0000ff" stroke-width="4.4" stroke-dasharray="21.0 19.5" stroke-dashoffset="8.1" stroke-linecap="butt" stroke-linejoin="round"/>
<path d="M195.0,992.8L205.6,992.8L216.0,992.8L226.4,992.8L236.7,992.8L246.9,992.8L257.1,992.8L267.1,992.8L277.1,992.8L287.0,992.8L296.8,992.8L306.5,992.8L316.1,992.8L325.6,992.8L335.1,992.8L344.5,992.8L353.8,992.8L363.0,992.8L372.1,992.8L381.1,992.8L390.0,992.8L398.9,992.8L407.7,992.8L416.3,992.8L424.9,992.8L433.4,992.8L441.9,992.8L450.2,992.8L458.4,992.8L466.6,992.8L474.6,992.8L482.6,992.8L490.5,992.8L498.3,992.8L506.0,992.8L513.6,992.8L521.2,992.8L528.6,992.8L536.0,992.8L543.2,992.8L550.4,992.8L557.5,992.8L564.5,992.8L571.4,992.8L578.2,992.8L584.9,992.8L591.5,992.8L598.0,992.8L604.5,992.8L610.8,992.8L617.1,992.8L623.2,992.8L629.3,992.8L635.3,992.8L641.2,992.8L647.0,992.8L652.7,992.8L658.3,992.8L663.8,992.8L669.2,992.8L674.5,992.8L679.7,992.8L684.9,992.8L689.9,992.8L694.8,992.8L699.7,992.8L704.4,992.8L709.1,992.8L713.6,992.8L718.1,992.8L722.5,992.8L726.7,992.8L730.9,992.8L735.0,992.8L739.0,992.8L742.9,992.8L746.6,992.8L750.3,992.8L753.9,992.8L757.4,992.8L760.8,992.8L764.1,992.8L767.3,992.8L770.4,992.8L773.4,992.8L776.3,992.8L779.1,992.8L781.8,992.8L784.4,992.8L786.9,992.8L789.3,992.8L791.6,992.8L793.8,992.8L795.8,992.8L797.9,992.8L799.8,992.8L801.6,992.7" fill="none" stroke="#008080" stroke-width="4.4" stroke-dasharray="21.0 21.6" stroke-dashoffset="1.4" stroke-linecap="butt" stroke-linejoin="round"/>
<path d="M799.8,992.8L801.6,992.7L803.4,992.7L805.0,992.7L806.7,992.6L808.2,992.5L809.7,992.5L811.1,992.4L812.5,992.3L813.9,992.2L815.2,992.1L816.4,992.0L817.7,991.9L818.9,991.7L820.1,991.6L821.2,991.5L822.4,991.3L823.5,991.2L824.6,991.0L825.8,990.9L826.9,990.6L827.9,990.3L829.0,989.9L830.0,989.4L831.0,988.9L832.0,988.4L832.9,987.8L833.8,987.3L834.7,986.8L835.6,986.3L836.5,985.9L837.3,985.5L838.1,985.2L838.9,985.0L839.7,984.9L840.5,984.8L841.2,984.7L841.8,984.6L842.5,984.5L843.2,984.4L843.8,984.4L844.5,984.3L845.2,984.2L845.9,984.0L846.7,983.8L847.4,983.6L848.2,983.3L849.0,983.0L849.8,982.6L850.6,982.1L851.4,981.7L852.2,981.2L853.0,980.8L853.8,980.3L854.6,979.8L855.4,979.3L856.2,978.9L857.0,978.4L857.8,978.0L858.6,977.5L859.4,977.1L860.2,976.6L861.0,976.1L861.8,975.6L862.6,975.1L863.4,974.6L864.2,974.0L865.0,973.4L865.9,972.9L866.7,972.3L867.5,971.6L868.3,971.0L869.2,970.3L870.0,969.5L870.9,968.8L871.8,968.0L872.6,967.2L873.5,966.4L874.4,965.6L875.2,964.7L876.1,963.8L876.9,962.9L877.8,962.0L878.6,961.1L879.3,960.1L880.1,959.2L880.8,958.2L881.6,957.2L882.3,956.2L883.0,955.1L883.7,954.0L884.4,952.9L885.0,951.7L885.7,950.6L886.4,949.4L887.0,948.1L887.7,946.9L888.3,945.6L888.9,944.4L889.5,943.1L890.1,941.8L890.7,940.6L891.2,939.3L891.8,938.1L892.3,936.8L892.8,935.6L893.2,934.4L893.7,933.1L894.1,931.9L894.6,930.7L895.0,929.4L895.4,928.2L895.8,927.0L896.1,925.7L896.5,924.5L896.9,923.2L897.2,922.0L897.6,920.7L897.9,919.5L898.3,918.2L898.6,917.0L899.0,915.7L899.3,914.5L899.6,913.2L900.0,912.0L900.3,910.8L900.7,909.5L901.0,908.3L901.4,907.0L901.7,905.8L902.1,904.5L902.4,903.3L902.8,902.0L903.1,900.8L903.4,899.5L903.8,898.3L904.1,897.1L904.4,895.9L904.7,894.7L905.0,893.5L905.4,892.3L905.7,891.2L906.0,890.1L906.3,889.0L906.6,888.0L906.9,887.0L907.2,886.0L907.5,885.1L907.8,884.2L908.1,883.2L908.4,882.3L908.6,881.4L908.9,880.4L909.2,879.4L909.5,878.4L909.7,877.3L910.0,876.1L910.3,874.9L910.5,873.5L910.8,872.1L911.0,870.6L911.3,869.0L911.5,867.3L911.7,865.6L912.0,863.8L912.2,861.9L912.4,860.0L912.7,858.0L912.9,856.0L913.1,854.0L913.3,851.9L913.5,849.8L913.8,847.7L914.0,845.5L914.2,843.4L914.4,841.2L914.7,839.1L914.9,837.0L915.1,834.8L915.3,832.8L915.6,830.7L915.8,828.7L916.0,826.7L916.2,824.7L916.5,822.8L916.7,821.0L917.0,819.2L917.2,817.4L917.5,815.6L917.7,813.8L918.0,812.1L918.3,810.3L918.5,808.6L918.8,806.9L919.0,805.1L919.3,803.4L919.6,801.7L919.8,800.0L920.1,798.3L920.4,796.6L920.6,795.0L920.9,793.3L921.2,791.6L921.4,789.9L921.7,788.2L921.9,786.5L922.2,784.8L922.4,783.1L922.7,781.4L922.9,779.7L923.2,778.0L923.4,776.2L923.6,774.5L923.9,772.7L924.1,770.9L924.3,769.1L924.5,767.3L924.8,765.5L925.0,763.7L925.2,761.9L925.4,760.1L925.7,758.3L925.9,756.5L926.1,754.7L926.3,752.9L926.5,751.1L926.7,749.4L926.9,747.7L927.1,746.0L927.4,744.3L927.6,742.7L927.8,741.1L928.0,739.5L928.2,737.9L928.4,736.4L928.6,735.0L928.8,733.5L929.0,732.1L929.2,730.8L929.4,729.4L929.6,728.1L929.8,726.7L929.9,725.4L930.1,724.1L930.3,722.9L930.5,721.6L930.7,720.4L930.9,719.2L931.1,718.0L931.2,716.8L931.4,715.6L931.6,714.4L931.8,713.2L932.0,712.0L932.2,710.9L932.4,709.7L932.5,708.5L932.7,707.3L932.9,706.1L933.0,705.0L933.2,703.8L933.3,702.7L933.5,701.6L933.7,700.5L933.9,699.4L934.1,698.4L934.3,697.5L934.5,696.5L934.7,695.7L935.0,694.9L935.3,694.1L935.6,693.4L936.0,692.7L936.4,692.1L936.8,691.5L937.3,690.8L937.7,690.2L938.1,689.6L938.5,689.0L938.8,688.3L939.2,687.7L939.5,686.9L939.7,686.2L940.0,685.4L940.3,684.6L940.5,683.8L940.8,683.1L941.0,682.3L941.3,681.6L941.6,680.9L941.8,680.3L942.1,679.8L942.4,679.2L942.8,678.6L943.1,678.0L943.4,677.4L943.8,677.0L944.1,676.7L944.4,676.5L944.7,676.5L945.0,676.8L945.2,677.2L945.5,677.7L945.8,678.4L946.0,679.1L946.3,679.9L946.6,680.7L946.8,681.5L947.1,682.2L947.3,683.0L947.6,683.9L947.8,684.7L948.0,685.7L948.3,686.7L948.5,687.7L948.7,688.7L949.0,689.8L949.2,690.9L949.4,692.0L949.7,693.1L949.9,694.2L950.2,695.3L950.5,696.4L950.7,697.5L951.0,698.6L951.3,699.7L951.6,700.8L952.0,701.9L952.3,703.0L952.6,704.1L953.0,705.3L953.3,706.4L953.7,707.6L954.0,708.8L954.3,710.0L954.7,711.2L955.0,712.5L955.3,713.7L955.6,715.0L955.8,716.3L956.1,717.7L956.3,719.0L956.6,720.5L956.8,721.9L957.0,723.4L957.2,724.9L957.4,726.5L957.6,728.1L957.7,729.7L957.9,731.4L958.1,733.0L958.3,734.7L958.5,736.4L958.6,738.0L958.8,739.7L959.0,741.4L959.2,743.1L959.3,744.8L959.5,746.5L959.7,748.2L959.9,749.8L960.1,751.4L960.3,753.0L960.6,754.6L960.8,756.2L961.0,757.8L961.3,759.3L961.5,760.8L961.8,762.3L962.1,763.8L962.3,765.4L962.6,766.9L962.9,768.3L963.2,769.8L963.5,771.3L963.8,772.8L964.1,774.3L964.4,775.9L964.7,777.4L965.0,778.9L965.3,780.4L965.6,782.0L965.9,783.6L966.2,785.1L966.5,786.7L966.9,788.3L967.2,790.0L967.5,791.6L967.8,793.3L968.1,795.0L968.4,796.7L968.8,798.4L969.1,800.1L969.4,801.9L969.7,803.6L970.1,805.4L970.4,807.1L970.7,808.9L971.1,810.7L971.4,812.5L971.7,814.3L972.1,816.1L972.4,817.9L972.8,819.7L973.1,821.5L973.5,823.3L973.8,825.1L974.2,826.9L974.5,828.7L974.9,830.4L975.2,832.2L975.6,834.0L975.9,835.8L976.3,837.6L976.6,839.4L977.0,841.2L977.3,843.0L977.6,844.9L978.0,846.7L978.3,848.5L978.6,850.4L979.0,852.2L979.3,854.1L979.7,855.9L980.0,857.7L980.4,859.6L980.7,861.4L981.1,863.2L981.5,865.0L981.9,866.8L982.3,868.6L982.7,870.4L983.1,872.1L983.5,873.9L984.0,875.6L984.4,877.3L984.9,879.0L985.4,880.6L985.9,882.3L986.4,883.9L987.0,885.5L987.6,887.2L988.2,888.8L988.8,890.4L989.4,892.0L990.1,893.6L990.8,895.2L991.5,896.7L992.2,898.3L992.9,899.8L993.7,901.4L994.5,902.9L995.2,904.4L996.1,905.9L996.9,907.3L997.7,908.8L998.6,910.2L999.4,911.6L1000.3,913.0L1001.2,914.4L1002.1,915.8L1003.0,917.1L1004.0,918.4L1004.9,919.7L1006.0,921.0L1007.0,922.4L1008.2,923.7L1009.3,925.0L1010.5,926.2L1011.7,927.5L1012.9,928.8L1014.2,930.1L1015.5,931.3L1016.8,932.5L1018.1,933.7L1019.4,934.9L1020.8,936.1L1022.1,937.2L1023.5,938.3L1024.8,939.4L1026.2,940.5L1027.5,941.5L1028.8,942.5L1030.1,943.4L1031.4,944.4L1032.7,945.3L1034.0,946.1L1035.2,947.0L1036.5,947.8L1037.8,948.6L1039.0,949.5L1040.3,950.3L1041.6,951.1L1042.9,951.9L1044.2,952.6L1045.4,953.4L1046.7,954.1L1048.0,954.8L1049.3,955.5L1050.5,956.1L1051.8,956.7L1053.1,957.3L1054.3,957.9L1055.6,958.4L1056.8,958.8L1058.0,959.2L1059.2,959.6L1060.4,959.9L1061.6,960.2L1062.8,960.5L1063.9,960.7L1065.1,961.0L1066.2,961.2L1067.4,961.4L1068.5,961.6L1069.6,961.8L1070.8,962.0L1071.9,962.2L1073.0,962.4L1074.2,962.6L1075.3,962.8L1076.5,963.0L1077.6,963.2L1078.8,963.4L1080.0,963.7L1081.1,963.9L1082.3,964.1L1083.5,964.3L1084.7,964.6L1085.9,964.8L1087.1,965.0L1088.3,965.2L1089.5,965.5L1090.7,965.7L1091.9,965.9L1093.1,966.1L1094.3,966.4L1095.5,966.6L1096.7,966.8L1097.8,967.0L1099.0,967.3L1100.1,967.5L1101.3,967.8L1102.4,968.1L1103.5,968.4L1104.6,968.7L1105.7,969.0L1106.8,969.3L1107.9,969.6L1108.9,969.9L1110.0,970.2L1111.1,970.4L1112.2,970.6L1113.4,970.8L1114.5,971.0L1115.6,971.0L1116.8,971.1L1118.0,971.1L1119.1,971.1L1120.4,971.1L1121.6,971.1L1122.8,971.1L1124.0,971.1L1125.3,971.1L1126.6,971.1L1127.8,971.1L1129.1,971.1L1130.3,971.1L1131.6,971.1L1132.8,971.1L1134.1,971.1L1135.3,971.1L1136.6,971.1L1137.8,971.1L1139.0,971.1L1140.2,971.1L1141.4,971.1L1142.5,971.2L1143.7,971.2L1144.8,971.3L1146.0,971.3L1147.1,971.4L1148.3,971.5L1149.4,971.6L1150.5,971.7" fill="none" stroke="#008080" stroke-width="4.4" stroke-dasharray="21.0 19.5" stroke-dashoffset="2.5" stroke-linecap="butt" stroke-linejoin="round"/>
<path d="M1149.4,971.6L1150.5,971.7L1151.7,971.8L1152.8,971.9L1154.0,972.0L1155.2,972.1L1156.3,972.2L1157.5,972.3L1158.7,972.4L1160.0,972.5L1161.2,972.7L1162.4,972.8L1163.7,972.9L1164.9,973.0L1166.2,973.2L1167.4,973.3L1168.7,973.4L1170.0,973.6L1171.2,973.7L1172.5,973.9L1173.8,974.0L1175.1,974.2L1176.4,974.4L1177.7,974.5L1179.0,974.7L1180.3,974.9L1181.6,975.0L1182.9,975.2L1184.2,975.4L1185.5,975.6L1186.8,975.8L1188.2,976.0L1189.5,976.2L1190.8,976.4L1192.2,976.6L1193.5,976.9L1194.9,977.1L1196.2,977.3L1197.6,977.5L1198.9,977.7L1200.3,977.9L1201.6,978.1L1203.0,978.3L1204.3,978.5L1205.6,978.7L1207.0,978.9L1208.3,979.0L1209.7,979.2L1211.1,979.3L1212.5,979.5L1213.9,979.6L1215.3,979.7L1216.7,979.8L1218.1,979.9L1219.6,980.1L1221.0,980.2L1222.4,980.3L1223.7,980.4L1225.1,980.5L1226.4,980.7L1227.7,980.8L1229.0,980.9L1230.2,981.1L1231.4,981.2L1232.5,981.3L1233.6,981.5L1234.6,981.7L1235.6,981.8L1236.5,982.0L1237.4,982.2L1238.3,982.4L1239.1,982.6L1240.0,982.8L1240.9,983.0L1241.8,983.2L1242.7,983.4L1243.6,983.6L1244.6,983.8L1245.7,984.0L1246.8,984.2L1247.9,984.4L1249.1,984.7L1250.3,985.0L1251.5,985.2L1252.8,985.5L1254.1,985.8L1255.4,986.1L1256.7,986.4L1258.1,986.7L1259.4,986.9L1260.8,987.2L1262.2,987.4L1263.5,987.7L1264.9,987.9L1266.2,988.1L1267.6,988.3L1268.9,988.4L1270.2,988.5L1271.5,988.6L1272.8,988.7L1274.1,988.8L1275.4,988.9L1276.6,989.0L1277.9,989.1L1279.2,989.2L1280.4,989.2L1281.7,989.3L1283.0,989.4L1284.3,989.4L1285.6,989.5L1287.0,989.6L1288.3,989.6L1289.7,989.7L1291.1,989.7L1292.5,989.7L1294.0,989.8L1295.5,989.8L1297.0,989.8L1298.5,989.9L1300.0,989.9L1301.6,989.9L1303.1,990.0L1304.7,990.0L1306.3,990.0L1307.9,990.0L1309.6,990.1L1311.2,990.1L1312.9,990.1L1314.6,990.1L1316.3,990.2L1318.1,990.2L1319.9,990.2L1321.7,990.2L1323.5,990.2L1325.4,990.2L1327.3,990.3L1329.3,990.3L1331.3,990.3L1333.3,990.3L1335.4,990.3L1337.6,990.3L1339.7,990.3L1342.0,990.3L1344.2,990.3L1346.6,990.3L1348.9,990.3L1351.3,990.3L1353.7,990.3L1356.2,990.3L1358.8,990.3L1361.3,990.3L1364.0,990.3L1366.6,990.3L1369.3,990.3L1372.0,990.3L1374.8,990.3L1377.7,990.3L1380.5,990.3L1383.4,990.3L1386.4,990.3L1389.4,990.3L1392.4,990.3L1395.5,990.3L1398.6,990.3L1401.7,990.3L1404.9,990.3L1408.2,990.3L1411.4,990.3L1414.8,990.3L1418.1,990.3L1421.5,990.3L1424.9,990.3L1428.4,990.3L1431.9,990.3L1435.5,990.3L1439.0,990.3L1442.7,990.3L1446.3,990.3L1450.0,990.3L1453.8,990.3L1457.6,990.3L1461.4,990.3L1465.2,990.3L1469.1,990.3L1473.0,990.3L1477.0,990.3L1481.0,990.3" fill="none" stroke="#008080" stroke-width="4.4" stroke-dasharray="21.0 19.7" stroke-dashoffset="0.7" stroke-linecap="butt" stroke-linejoin="round"/>
<path d="M195.0,991.3L205.9,991.3L216.8,991.3L227.6,991.3L238.3,991.3L248.9,991.3L259.4,991.3L269.8,991.3L280.1,991.3L290.3,991.3L300.4,991.3L310.5,991.3L320.5,991.3L330.3,991.3L340.1,991.3L349.8,991.3L359.4,991.3L368.9,991.3L378.3,991.3L387.6,991.3L396.8,991.3L405.9,991.3L414.9,991.3L423.9,991.3L432.7,991.3L441.5,991.3L450.1,991.3L458.7,991.3L467.2,991.3L475.5,991.3L483.8,991.3L492.0,991.3L500.1,991.3L508.1,991.3L516.0,991.3L523.8,991.3L531.5,991.3L539.1,991.3L546.6,991.3L554.1,991.3L561.4,991.3L568.6,991.3L575.7,991.3L582.8,991.3L589.7,991.3L596.6,991.3L603.3,991.3L609.9,991.3L616.5,991.3L622.9,991.3L629.3,991.3L635.5,991.3L641.7,991.3L647.8,991.3L653.7,991.3L659.6,991.3L665.3,991.3L671.0,991.3L676.5,991.3L682.0,991.3L687.3,991.3L692.6,991.3L697.8,991.3L702.8,991.3L707.8,991.3L712.6,991.3L717.4,991.3L722.0,991.3L726.6,991.3L731.0,991.3L735.4,991.3L739.6,991.3L743.8,991.3L747.8,991.3L751.7,991.3L755.6,991.3L759.3,991.3L762.9,991.3L766.5,991.3L769.9,991.3L773.2,991.3L776.4,991.3L779.5,991.3L782.5,991.3L785.4,991.3L788.2,991.3L790.9,991.3L793.5,991.3L796.0,991.3L798.3,991.3L800.6,991.3" fill="none" stroke="#ff00ff" stroke-width="4.4" stroke-dasharray="21.0 21.6" stroke-dashoffset="1.4" stroke-linecap="butt" stroke-linejoin="round"/>
<path d="M798.3,991.3L800.6,991.3L802.8,991.3L804.8,991.3L806.8,991.3L808.6,991.3L810.4,991.3L812.0,991.3L813.5,991.3L814.9,991.3L816.3,991.3L817.6,991.3L818.8,991.3L819.9,991.2L821.0,991.2L822.0,991.2L823.1,991.2L824.1,991.2L825.0,991.1L826.0,991.1L827.0,991.1L828.0,991.1L829.1,991.0L830.1,991.0L831.2,991.0L832.3,990.9L833.3,990.8L834.3,990.7L835.3,990.6L836.3,990.5L837.3,990.3L838.3,990.2L839.3,990.0L840.3,989.9L841.3,989.7L842.3,989.5L843.3,989.3L844.3,989.1L845.3,989.0L846.2,988.7L847.2,988.5L848.2,988.3L849.2,988.0L850.2,987.7L851.2,987.4L852.1,987.0L853.1,986.7L854.1,986.4L855.1,986.0L856.1,985.7L857.1,985.4L858.1,985.1L859.1,984.8L860.1,984.5L861.2,984.2L862.3,983.9L863.4,983.7L864.5,983.4L865.6,983.2L866.7,983.0L867.8,982.7L869.0,982.5L870.1,982.2L871.2,982.0L872.3,981.7L873.4,981.4L874.5,981.1L875.5,980.8L876.5,980.5L877.5,980.1L878.5,979.7L879.4,979.2L880.3,978.6L881.2,978.0L882.1,977.4L883.0,976.7L883.8,975.9L884.7,975.2L885.5,974.4L886.3,973.5L887.2,972.7L888.0,971.9L888.8,971.0L889.6,970.1L890.4,969.3L891.2,968.4L892.0,967.6L892.8,966.8L893.6,965.9L894.4,965.0L895.2,964.1L896.1,963.1L896.9,962.2L897.7,961.2L898.5,960.3L899.3,959.3L900.1,958.3L900.8,957.3L901.5,956.3L902.3,955.3L902.9,954.3L903.6,953.3L904.2,952.3L904.8,951.4L905.3,950.4L905.9,949.4L906.4,948.4L906.9,947.5L907.4,946.5L907.9,945.5L908.3,944.6L908.8,943.6L909.2,942.6L909.6,941.6L910.0,940.6L910.4,939.6L910.8,938.6L911.2,937.5L911.5,936.5L911.9,935.4L912.2,934.3L912.5,933.1L912.9,932.0L913.2,930.8L913.5,929.6L913.7,928.4L914.0,927.1L914.3,925.9L914.6,924.6L914.8,923.3L915.1,922.1L915.3,920.8L915.6,919.6L915.8,918.3L916.1,917.1L916.4,915.9L916.6,914.7L916.9,913.6L917.1,912.4L917.4,911.3L917.6,910.3L917.9,909.2L918.1,908.2L918.4,907.2L918.6,906.2L918.9,905.2L919.1,904.2L919.4,903.2L919.6,902.2L919.9,901.2L920.1,900.1L920.4,899.0L920.6,897.8L920.9,896.6L921.2,895.4L921.4,894.1L921.7,892.7L922.0,891.3L922.2,889.9L922.5,888.5L922.8,887.0L923.1,885.4L923.3,883.9L923.6,882.3L923.9,880.7L924.2,879.1L924.5,877.5L924.7,875.8L925.0,874.2L925.3,872.5L925.6,870.8L925.9,869.1L926.1,867.5L926.4,865.8L926.7,864.1L927.0,862.5L927.2,860.8L927.5,859.2L927.8,857.6L928.0,855.9L928.3,854.3L928.6,852.6L928.8,850.9L929.1,849.2L929.4,847.6L929.6,845.9L929.9,844.2L930.1,842.5L930.4,840.8L930.7,839.0L930.9,837.3L931.2,835.6L931.4,833.9L931.7,832.2L931.9,830.4L932.2,828.7L932.4,827.0L932.7,825.2L932.9,823.5L933.2,821.8L933.4,820.1L933.6,818.3L933.9,816.6L934.1,814.9L934.3,813.1L934.5,811.4L934.7,809.6L935.0,807.9L935.2,806.1L935.4,804.4L935.6,802.6L935.8,800.9L936.0,799.1L936.2,797.3L936.4,795.6L936.6,793.8L936.8,792.0L937.0,790.3L937.2,788.5L937.4,786.7L937.6,785.0L937.8,783.2L938.1,781.5L938.3,779.8L938.5,778.0L938.7,776.3L938.9,774.6L939.1,772.9L939.3,771.2L939.5,769.4L939.7,767.7L940.0,766.0L940.2,764.3L940.4,762.6L940.6,760.9L940.8,759.3L941.1,757.6L941.3,755.9L941.5,754.2L941.7,752.5L941.9,750.8L942.2,749.2L942.4,747.5L942.6,745.9L942.8,744.2L943.0,742.6L943.3,740.9L943.5,739.3L943.7,737.7L943.9,736.1L944.1,734.5L944.3,732.9L944.5,731.3L944.7,729.7L944.9,728.1L945.1,726.4L945.3,724.8L945.5,723.1L945.7,721.5L945.8,719.8L946.0,718.1L946.2,716.5L946.4,714.8L946.6,713.2L946.7,711.6L946.9,710.1L947.1,708.5L947.3,707.0L947.5,705.6L947.6,704.2L947.8,702.9L948.0,701.6L948.2,700.4L948.4,699.2L948.6,698.1L948.8,697.1L949.0,696.2L949.1,695.2L949.3,694.4L949.5,693.5L949.7,692.7L949.9,691.9L950.1,691.1L950.3,690.4L950.5,689.7L950.7,689.0L950.9,688.3L951.1,687.6L951.4,686.9L951.6,686.2L951.9,685.5L952.1,684.9L952.4,684.2L952.6,683.6L952.9,683.1L953.2,682.5L953.5,682.1L953.7,681.6L954.0,681.1L954.3,680.6L954.6,680.2L954.9,679.8L955.2,679.6L955.5,679.5L955.9,679.6L956.2,679.9L956.6,680.3L957.0,680.8L957.4,681.4L957.8,682.0L958.2,682.7L958.6,683.3L959.0,683.9L959.3,684.6L959.7,685.2L960.1,685.9L960.5,686.6L960.9,687.4L961.3,688.1L961.6,689.0L962.0,689.8L962.4,690.6L962.7,691.5L963.0,692.4L963.4,693.3L963.7,694.2L964.0,695.2L964.2,696.1L964.5,697.1L964.8,698.2L965.0,699.2L965.3,700.3L965.6,701.4L965.8,702.5L966.0,703.7L966.3,704.8L966.5,706.0L966.7,707.2L967.0,708.4L967.2,709.7L967.4,710.9L967.6,712.2L967.8,713.4L968.0,714.7L968.2,716.0L968.3,717.4L968.5,718.7L968.7,720.1L968.9,721.5L969.0,722.9L969.2,724.4L969.3,725.8L969.5,727.3L969.6,728.8L969.8,730.3L969.9,731.8L970.1,733.3L970.3,734.8L970.4,736.4L970.6,737.9L970.8,739.5L970.9,741.0L971.1,742.6L971.3,744.1L971.5,745.7L971.7,747.3L971.9,748.9L972.1,750.6L972.3,752.2L972.5,753.9L972.7,755.6L972.9,757.2L973.1,758.9L973.3,760.7L973.5,762.4L973.7,764.1L973.9,765.8L974.1,767.6L974.3,769.3L974.6,771.1L974.8,772.8L975.0,774.6L975.2,776.3L975.5,778.1L975.7,779.8L975.9,781.6L976.2,783.3L976.4,785.0L976.7,786.8L976.9,788.5L977.2,790.2L977.4,791.9L977.7,793.7L977.9,795.4L978.2,797.1L978.5,798.9L978.8,800.6L979.0,802.4L979.3,804.1L979.6,805.8L979.9,807.6L980.2,809.3L980.5,811.1L980.8,812.8L981.1,814.6L981.4,816.3L981.7,818.1L982.0,819.8L982.3,821.6L982.6,823.3L982.9,825.1L983.2,826.8L983.5,828.6L983.8,830.3L984.1,832.0L984.4,833.8L984.7,835.5L985.0,837.3L985.3,839.0L985.6,840.8L985.9,842.6L986.2,844.3L986.5,846.1L986.8,847.9L987.1,849.7L987.4,851.4L987.7,853.2L988.0,855.0L988.3,856.7L988.6,858.5L989.0,860.2L989.3,862.0L989.6,863.7L990.0,865.4L990.4,867.2L990.7,868.9L991.1,870.6L991.5,872.3L991.9,873.9L992.4,875.6L992.8,877.2L993.3,878.9L993.7,880.5L994.2,882.2L994.7,883.8L995.3,885.5L995.8,887.1L996.4,888.8L997.0,890.4L997.6,892.0L998.2,893.7L998.9,895.3L999.5,896.9L1000.2,898.5L1000.9,900.1L1001.6,901.6L1002.3,903.2L1003.1,904.7L1003.8,906.2L1004.6,907.7L1005.3,909.2L1006.1,910.6L1006.9,912.1L1007.7,913.5L1008.5,914.8L1009.4,916.2L1010.2,917.6L1011.1,918.9L1012.1,920.3L1013.0,921.6L1014.0,923.0L1015.1,924.4L1016.1,925.7L1017.2,927.0L1018.3,928.3L1019.4,929.6L1020.6,930.9L1021.8,932.2L1022.9,933.4L1024.1,934.6L1025.3,935.8L1026.5,936.9L1027.7,938.0L1028.9,939.1L1030.2,940.1L1031.4,941.0L1032.6,942.0L1033.8,942.8L1035.0,943.6L1036.2,944.4L1037.4,945.2L1038.7,945.9L1040.0,946.6L1041.3,947.3L1042.6,948.0L1043.9,948.7L1045.2,949.3L1046.6,949.9L1047.9,950.5L1049.3,951.1L1050.6,951.7L1051.9,952.2L1053.3,952.7L1054.6,953.2L1055.9,953.7L1057.1,954.2L1058.4,954.6L1059.6,955.0L1060.8,955.4L1062.0,955.7L1063.1,956.1L1064.2,956.4L1065.3,956.7L1066.4,957.0L1067.4,957.2L1068.5,957.5L1069.5,957.8L1070.5,958.0L1071.5,958.2L1072.6,958.4L1073.6,958.7L1074.6,958.9L1075.7,959.1L1076.7,959.3L1077.8,959.5L1078.9,959.6L1080.0,959.8L1081.1,960.0L1082.2,960.2L1083.4,960.3L1084.5,960.5L1085.6,960.6L1086.8,960.8L1087.9,960.9L1089.1,961.0L1090.3,961.2L1091.4,961.3L1092.6,961.4L1093.7,961.6L1094.9,961.7L1096.1,961.9L1097.2,962.0L1098.3,962.2L1099.5,962.3L1100.6,962.5L1101.8,962.6L1102.9,962.8L1104.0,963.0L1105.2,963.2L1106.3,963.3L1107.5,963.5L1108.6,963.7L1109.7,963.8L1110.9,964.0L1112.0,964.1L1113.2,964.3L1114.3,964.4L1115.5,964.5L1116.6,964.7L1117.8,964.8L1119.0,964.8L1120.2,964.9L1121.3,965.0L1122.5,965.1L1123.7,965.2L1124.9,965.3L1126.1,965.4L1127.3,965.4L1128.5,965.5L1129.7,965.6L1130.9,965.6L1132.0,965.7L1133.2,965.8L1134.4,965.8L1135.6,965.9L1136.8,966.0L1137.9,966.0L1139.1,966.1L1140.3,966.1L1141.4,966.2L1142.6,966.2L1143.7,966.3L1144.8,966.3L1146.0,966.3L1147.1,966.4L1148.3,966.4L1149.4,966.5L1150.5,966.5" fill="none" stroke="#ff00ff" stroke-width="4.4" stroke-dasharray="21.0 19.3" stroke-dashoffset="29.2" stroke-linecap="butt" stroke-linejoin="round"/>
<path d="M1149.4,966.5L1150.5,966.5L1151.7,966.6L1152.8,966.6L1154.0,966.7L1155.1,966.7L1156.3,966.8L1157.5,966.8L1158.6,966.9L1159.8,967.0L1161.0,967.1L1162.2,967.1L1163.4,967.2L1164.5,967.3L1165.7,967.4L1166.9,967.5L1168.1,967.6L1169.3,967.7L1170.5,967.8L1171.7,967.9L1172.9,968.0L1174.1,968.1L1175.3,968.2L1176.5,968.2L1177.6,968.3L1178.8,968.4L1180.0,968.4L1181.2,968.5L1182.4,968.5L1183.6,968.6L1184.8,968.6L1186.0,968.7L1187.2,968.7L1188.4,968.8L1189.6,968.8L1190.7,968.9L1191.9,968.9L1193.1,968.9L1194.3,969.0L1195.5,969.1L1196.7,969.1L1197.8,969.2L1199.0,969.2L1200.1,969.3L1201.3,969.4L1202.4,969.5L1203.6,969.6L1204.7,969.7L1205.8,969.8L1207.0,969.9L1208.1,970.1L1209.2,970.2L1210.4,970.3L1211.5,970.4L1212.6,970.5L1213.8,970.6L1214.9,970.7L1216.1,970.7L1217.3,970.8L1218.5,970.8L1219.7,970.9L1220.9,970.9L1222.1,971.0L1223.3,971.0L1224.6,971.1L1225.8,971.1L1227.0,971.1L1228.3,971.2L1229.5,971.2L1230.8,971.2L1232.0,971.3L1233.3,971.3L1234.5,971.3L1235.7,971.4L1236.9,971.4L1238.1,971.5L1239.3,971.5L1240.5,971.5L1241.6,971.6L1242.7,971.6L1243.8,971.7L1244.9,971.8L1246.0,971.8L1247.1,971.9L1248.2,971.9L1249.3,972.0L1250.4,972.0L1251.5,972.1L1252.6,972.1L1253.8,972.2L1255.0,972.2L1256.3,972.3L1257.6,972.3L1258.9,972.3L1260.3,972.3L1261.7,972.3L1263.1,972.4L1264.5,972.4L1266.0,972.4L1267.5,972.4L1269.0,972.4L1270.6,972.4L1272.2,972.5L1273.8,972.5L1275.4,972.5L1277.1,972.5L1278.8,972.5L1280.5,972.5L1282.3,972.5L1284.0,972.5L1285.9,972.5L1287.7,972.5L1289.5,972.6L1291.4,972.6L1293.3,972.6L1295.3,972.6L1297.2,972.6L1299.2,972.6L1301.3,972.6L1303.4,972.6L1305.5,972.6L1307.7,972.6L1310.0,972.6L1312.3,972.6L1314.7,972.7L1317.2,972.7L1319.7,972.7L1322.2,972.7L1324.8,972.7L1327.4,972.7L1330.0,972.7L1332.7,972.7L1335.4,972.7L1338.1,972.7L1340.9,972.7L1343.6,972.7L1346.4,972.7L1349.2,972.7L1352.0,972.7L1354.9,972.8L1357.7,972.8L1360.5,972.8L1363.3,972.8L1366.2,972.8L1369.0,972.8L1371.8,972.8L1374.5,972.8L1377.3,972.8L1380.1,972.8L1382.8,972.8L1385.5,972.8L1388.2,972.8L1390.8,972.8L1393.4,972.8L1396.0,972.8L1398.5,972.8L1401.0,972.8L1403.5,972.8L1405.9,972.8L1408.4,972.8L1410.8,972.8L1413.3,972.8L1415.7,972.8L1418.1,972.8L1420.6,972.8L1423.0,972.8L1425.4,972.8L1427.8,972.8L1430.2,972.8L1432.6,972.8L1434.9,972.8L1437.3,972.8L1439.7,972.8L1442.0,972.8L1444.4,972.8L1446.7,972.8L1449.1,972.8L1451.4,972.8L1453.7,972.8L1456.0,972.8L1458.3,972.8L1460.6,972.8L1462.9,972.8L1465.2,972.8L1467.5,972.8L1469.8,972.8L1472.0,972.8L1474.3,972.8L1476.5,972.8L1478.8,972.8L1481.0,972.8" fill="none" stroke="#ff00ff" stroke-width="4.4" stroke-dasharray="21.0 19.3" stroke-dashoffset="10.7" stroke-linecap="butt" stroke-linejoin="round"/>
<path d="M195.0,112.5L197.0,112.5L199.0,112.5L201.0,112.5L203.0,112.5L205.0,112.5L207.0,112.5L209.0,112.5L211.0,112.6L213.0,112.6L215.0,112.6L217.0,112.6L219.0,112.6L221.0,112.6L223.0,112.6L225.0,112.6L227.0,112.6L229.1,112.6L231.1,112.6L233.1,112.6L235.1,112.6L237.1,112.6L239.1,112.6L241.1,112.6L243.1,112.6L245.1,112.6L247.1,112.6L249.1,112.6L251.1,112.6L253.1,112.6L255.1,112.7L257.1,112.7L259.1,112.7L261.1,112.7L263.1,112.7L265.1,112.7L267.1,112.7L269.1,112.7L271.1,112.7L273.1,112.7L275.1,112.7L277.1,112.7L279.1,112.7L281.1,112.7L283.1,112.7L285.1,112.7L287.1,112.7L289.1,112.7L291.1,112.7L293.1,112.7L295.1,112.7L297.1,112.7L299.1,112.7L301.1,112.6L303.2,112.6L305.2,112.6L307.2,112.6L309.2,112.6L311.2,112.6L313.2,112.6L315.2,112.6L317.2,112.6L319.2,112.6L321.2,112.6L323.2,112.6L325.2,112.6L327.2,112.6L329.2,112.6L331.2,112.6L333.2,112.6L335.2,112.5L337.2,112.5L339.2,112.5L341.2,112.5L343.2,112.5L345.2,112.5L347.2,112.5L349.2,112.5L351.2,112.5L353.2,112.4L355.2,112.4L357.2,112.4L359.2,112.4L361.2,112.4L363.2,112.4L365.2,112.4L367.2,112.3L369.2,112.3L371.2,112.3L373.2,112.3L375.2,112.3L377.2,112.3L379.2,112.2L381.2,112.2L383.2,112.2L385.2,112.2L387.2,112.2L389.2,112.1L391.2,112.1L393.3,112.1L395.3,112.1L397.3,112.0L399.3,112.0L401.3,112.0L403.3,112.0L405.3,111.9L407.3,111.9L409.3,111.9L411.3,111.9L413.3,111.8L415.3,111.8L417.3,111.8L419.3,111.8L421.3,111.7L423.3,111.7L425.3,111.7L427.3,111.6L429.3,111.6L431.3,111.6L433.3,111.5L435.3,111.5L437.3,111.5L439.3,111.4L441.3,111.4L443.3,111.4L445.3,111.3L447.3,111.3L449.3,111.2L451.3,111.2L453.3,111.2L455.3,111.1L457.3,111.1L459.3,111.0L461.3,111.0L463.3,111.0L465.3,110.9L467.3,110.9L469.3,110.8L471.3,110.8L473.3,110.7L475.3,110.7L477.3,110.6L479.3,110.6L481.3,110.5L483.3,110.5L485.3,110.4L487.3,110.4L489.3,110.3L491.3,110.3L493.3,110.2L495.3,110.2L497.3,110.1L499.3,110.1L501.3,110.0L503.3,110.0L505.3,109.9L507.3,109.8L509.3,109.8L511.3,109.7L513.3,109.7L515.3,109.6L517.3,109.5L519.3,109.5L521.4,109.4L523.4,109.3L525.4,109.3L527.4,109.2L529.4,109.1L531.4,109.1L533.4,109.0L535.4,108.9L537.4,108.9L539.4,108.8L541.4,108.7L543.4,108.6L545.4,108.6L547.4,108.5L549.4,108.4L551.4,108.3L553.4,108.3L555.4,108.2L557.4,108.1L559.4,108.0L561.4,108.0L563.4,107.9L565.4,107.8L567.4,107.7L569.4,107.6L571.4,107.5L573.4,107.5L575.4,107.4L577.4,107.3L579.4,107.2L581.4,107.1L583.4,107.0L585.4,106.9L587.4,106.8L589.4,106.7L591.4,106.6L593.4,106.5L595.4,106.4L597.4,106.3L599.4,106.2L601.4,106.1L603.4,106.0L605.4,105.9L607.4,105.8L609.4,105.7L611.4,105.6L613.4,105.5L615.4,105.4L617.4,105.3L619.4,105.2L621.4,105.1L623.4,105.0L625.4,104.9L627.4,104.8L629.4,104.7L631.4,104.5L633.4,104.4L635.4,104.3L637.4,104.2L639.4,104.1L641.4,104.0L643.4,103.9L645.4,103.7L647.4,103.6L649.4,103.5L651.4,103.4L653.4,103.3L655.4,103.2L657.4,103.1L659.4,102.9L661.4,102.8L663.4,102.7L665.4,102.6L667.4,102.5L669.4,102.4L671.4,102.3L673.4,102.1L675.4,102.0L677.4,101.9L679.4,101.8L681.4,101.7L683.4,101.6L685.4,101.5L687.4,101.4L689.4,101.3L691.4,101.1L693.4,101.0L695.4,100.9L697.4,100.8L699.4,100.7L701.4,100.6L703.4,100.5L705.4,100.4L707.4,100.3L709.4,100.2L711.4,100.1L713.4,100.0L715.4,99.9L717.4,99.8L719.4,99.8L721.4,99.7L723.4,99.6L725.4,99.5L727.4,99.4L729.4,99.3L731.4,99.2L733.4,99.2L735.4,99.1L737.4,99.0L739.4,98.9L741.4,98.9L743.4,98.8L745.4,98.7L747.4,98.7L749.4,98.6L751.4,98.6L753.4,98.5L755.4,98.4L757.4,98.4L759.4,98.3L761.4,98.3L763.4,98.2L765.4,98.2L767.4,98.2L769.4,98.1L771.4,98.1L773.4,98.1L775.4,98.0L777.4,98.0L779.4,98.0L781.4,98.0L783.4,97.9L785.4,97.9L787.4,97.9L789.4,97.9L791.4,97.9L793.4,97.9L795.4,97.9L797.4,97.9L799.4,97.9L801.4,97.9L803.4,98.0L805.4,98.0L807.4,98.0L809.4,98.0L811.4,98.1L813.4,98.1L815.4,98.1L817.4,98.2L819.4,98.2L821.4,98.3L823.4,98.3L825.4,98.4L827.4,98.4L829.4,98.5L831.4,98.6L833.4,98.7L835.4,98.7L837.4,98.8L839.4,98.9L841.4,99.0L843.4,99.1L845.4,99.2L847.4,99.3L849.4,99.4L851.5,99.5L853.5,99.6L855.5,99.8L857.5,99.9L859.5,100.0L861.5,100.2L863.5,100.3L865.5,100.5L867.5,100.6L869.5,100.8L871.5,101.0L873.5,101.1L875.5,101.3L877.5,101.5L879.5,101.8L881.4,102.0L883.4,102.3L885.4,102.6L887.4,102.9L889.3,103.3L891.3,103.6L893.2,104.1L895.2,104.5L897.1,105.0L899.0,105.5L900.9,106.1L902.8,106.7L904.7,107.4L906.6,108.1L908.5,108.8L910.3,109.6L912.1,110.5L914.0,111.3L915.8,112.3L917.5,113.2L919.3,114.2L921.0,115.3L922.7,116.3L924.4,117.4L926.1,118.6L927.7,119.8L929.4,121.0L930.9,122.2L932.5,123.5L934.0,124.8L935.5,126.1L937.0,127.5L938.4,128.9L939.8,130.3L941.2,131.7L942.5,133.2L943.8,134.7L945.1,136.2L946.3,137.7L947.5,139.3L948.7,140.8L949.8,142.4L951.0,144.0L952.0,145.7L953.1,147.3L954.1,149.0L955.1,150.7L956.1,152.4L957.0,154.1L958.0,155.9L958.9,157.6L959.7,159.4L960.6,161.2L961.4,163.0L962.2,164.8L963.0,166.7L963.8,168.5L964.6,170.3L965.3,172.2L966.0,174.1L966.7,176.0L967.4,177.9L968.0,179.8L968.7,181.7L969.3,183.6L969.9,185.5L970.5,187.5L971.1,189.4L971.7,191.4L972.3,193.3L972.8,195.3L973.4,197.2L973.9,199.2L974.5,201.2L975.0,203.1L975.5,205.1L976.0,207.1L976.5,209.0L977.0,211.0L977.5,213.0L978.0,215.0L978.5,216.9L978.9,218.9L979.4,220.9L979.9,222.8L980.3,224.8L980.8,226.8L981.2,228.7L981.7,230.7L982.1,232.6L982.6,234.6L983.0,236.6L983.4,238.5L983.9,240.5L984.3,242.5L984.7,244.4L985.1,246.4L985.6,248.3L986.0,250.3L986.4,252.3L986.8,254.2L987.2,256.2L987.6,258.1L988.0,260.1L988.4,262.1L988.8,264.0L989.1,266.0L989.5,267.9L989.9,269.9L990.3,271.8L990.7,273.8L991.0,275.8L991.4,277.7L991.8,279.7L992.1,281.6L992.5,283.6L992.9,285.6L993.2,287.5L993.6,289.5L993.9,291.4L994.3,293.4L994.6,295.3L995.0,297.3L995.3,299.3L995.7,301.2L996.0,303.2L996.4,305.1L996.7,307.1L997.0,309.1L997.4,311.0L997.7,313.0L998.1,315.0L998.4,316.9L998.7,318.9L999.1,320.8L999.4,322.8L999.7,324.8L1000.1,326.7L1000.4,328.7L1000.7,330.7L1001.1,332.6L1001.4,334.6L1001.7,336.6L1002.1,338.6L1002.4,340.5L1002.7,342.5L1003.0,344.5L1003.4,346.4L1003.7,348.4L1004.0,350.4L1004.4,352.4L1004.7,354.4L1005.0,356.3L1005.4,358.3L1005.7,360.3L1006.0,362.3L1006.4,364.3L1006.7,366.2L1007.0,368.2L1007.4,370.2L1007.7,372.2L1008.1,374.2L1008.4,376.2L1008.8,378.1L1009.2,380.1L1009.5,382.1L1009.9,384.1L1010.3,386.0L1010.7,388.0L1011.1,390.0L1011.5,391.9L1011.9,393.9L1012.4,395.9L1012.8,397.8L1013.3,399.8L1013.7,401.7L1014.2,403.6L1014.7,405.6L1015.2,407.5L1015.7,409.4L1016.2,411.4L1016.8,413.3L1017.3,415.2L1017.9,417.1L1018.5,419.0L1019.1,420.9L1019.7,422.7L1020.3,424.6L1021.0,426.5L1021.7,428.3L1022.4,430.2L1023.1,432.0L1023.8,433.9L1024.6,435.7L1025.3,437.5L1026.1,439.3L1027.0,441.1L1027.8,442.9L1028.7,444.7L1029.5,446.4L1030.4,448.2L1031.3,450.0L1032.2,451.7L1033.2,453.5L1034.1,455.2L1035.0,457.0L1036.0,458.8L1036.9,460.5L1037.9,462.3L1038.8,464.1L1039.7,465.9L1040.7,467.7L1041.6,469.5L1042.5,471.3L1043.4,473.1L1044.3,475.0L1045.2,476.8L1046.1,478.7L1047.0,480.5L1047.9,482.4L1048.7,484.3L1049.6,486.1L1050.5,488.0L1051.4,489.9L1052.3,491.7L1053.2,493.6L1054.1,495.4L1055.0,497.3L1055.9,499.1L1056.9,500.9L1057.8,502.7L1058.8,504.5L1059.8,506.3L1060.8,508.0L1061.8,509.8L1062.9,511.5L1063.9,513.2L1065.0,514.9L1066.1,516.6L1067.2,518.3L1068.3,519.9L1069.5,521.6L1070.6,523.2L1071.8,524.8L1073.0,526.4L1074.2,528.0L1075.4,529.6L1076.6,531.1L1077.8,532.7L1079.1,534.2L1080.4,535.7L1081.6,537.2L1082.9,538.7L1084.2,540.2L1085.6,541.6L1086.9,543.1L1088.2,544.5L1089.6,546.0L1091.0,547.4L1092.4,548.8L1093.8,550.2L1095.2,551.5L1096.6,552.9L1098.0,554.2L1099.5,555.6L1100.9,556.9L1102.4,558.2L1103.9,559.5L1105.4,560.8L1106.9,562.1L1108.4,563.3L1109.9,564.6L1111.5,565.8L1113.0,567.0L1114.6,568.3L1116.1,569.5L1117.7,570.7L1119.3,571.8L1120.9,573.0L1122.5,574.2L1124.1,575.3L1125.7,576.5L1127.4,577.6L1129.0,578.7L1130.7,579.8L1132.3,580.9L1134.0,582.0L1135.7,583.1L1137.4,584.1L1139.1,585.2L1140.8,586.2L1142.5,587.2L1144.2,588.3L1145.9,589.3L1147.6,590.3L1149.4,591.3L1151.1,592.3L1152.9,593.2L1154.6,594.2L1156.4,595.1L1158.2,596.1L1160.0,597.0L1161.7,597.9L1163.5,598.9L1165.3,599.8L1167.1,600.7L1168.9,601.6L1170.8,602.4L1172.6,603.3L1174.4,604.2L1176.2,605.0L1178.1,605.9L1179.9,606.7L1181.7,607.6L1183.6,608.4L1185.4,609.2L1187.3,610.0L1189.1,610.8L1191.0,611.6L1192.9,612.4L1194.7,613.1L1196.6,613.9L1198.5,614.7L1200.4,615.4L1202.3,616.2L1204.1,616.9L1206.0,617.6L1207.9,618.3L1209.8,619.1L1211.7,619.8L1213.6,620.5L1215.5,621.2L1217.4,621.9L1219.3,622.5L1221.2,623.2L1223.1,623.9L1225.0,624.5L1226.9,625.2L1228.8,625.8L1230.7,626.5L1232.6,627.1L1234.5,627.7L1236.4,628.4L1238.3,629.0L1240.3,629.6L1242.2,630.2L1244.1,630.8L1246.0,631.4L1247.9,632.0L1249.8,632.6L1251.8,633.1L1253.7,633.7L1255.6,634.2L1257.5,634.8L1259.5,635.3L1261.4,635.9L1263.3,636.4L1265.2,637.0L1267.2,637.5L1269.1,638.0L1271.0,638.5L1273.0,639.0L1274.9,639.5L1276.8,640.0L1278.8,640.5L1280.7,641.0L1282.6,641.5L1284.6,641.9L1286.5,642.4L1288.5,642.8L1290.4,643.3L1292.4,643.7L1294.3,644.2L1296.2,644.6L1298.2,645.0L1300.1,645.5L1302.1,645.9L1304.0,646.3L1306.0,646.7L1307.9,647.1L1309.9,647.5L1311.8,647.9L1313.8,648.3L1315.8,648.7L1317.7,649.0L1319.7,649.4L1321.6,649.8L1323.6,650.1L1325.5,650.5L1327.5,650.8L1329.5,651.2L1331.4,651.5L1333.4,651.8L1335.4,652.1L1337.3,652.5L1339.3,652.8L1341.3,653.1L1343.2,653.4L1345.2,653.7L1347.2,654.0L1349.2,654.3L1351.1,654.6L1353.1,654.8L1355.1,655.1L1357.0,655.4L1359.0,655.6L1361.0,655.9L1363.0,656.2L1365.0,656.4L1366.9,656.6L1368.9,656.9L1370.9,657.1L1372.9,657.3L1374.9,657.6L1376.8,657.8L1378.8,658.0L1380.8,658.2L1382.8,658.4L1384.8,658.6L1386.8,658.8L1388.8,659.0L1390.8,659.2L1392.7,659.4L1394.7,659.5L1396.7,659.7L1398.7,659.9L1400.7,660.0L1402.7,660.2L1404.7,660.3L1406.7,660.5L1408.7,660.6L1410.7,660.8L1412.7,660.9L1414.7,661.0L1416.7,661.2L1418.7,661.3L1420.7,661.4L1422.7,661.5L1424.7,661.6L1426.7,661.7L1428.7,661.8L1430.7,661.9L1432.7,662.0L1434.7,662.1L1436.7,662.2L1438.7,662.3L1440.7,662.3L1442.7,662.4L1444.7,662.5L1446.8,662.5L1448.8,662.6L1450.8,662.7L1452.8,662.7L1454.8,662.8L1456.8,662.8L1458.8,662.8L1460.8,662.9L1462.9,662.9L1464.9,662.9L1466.9,662.9L1468.9,663.0L1470.9,663.0L1472.9,663.0L1474.9,663.0L1477.0,663.0L1479.0,663.0L1481.0,663.0" fill="none" stroke="#000000" stroke-width="5.2" stroke-linejoin="round" stroke-linecap="butt"/>
<path d="M195.0,110.8L197.0,110.6L199.0,110.5L201.0,110.3L203.0,110.2L205.0,110.1L207.0,109.9L209.0,109.8L211.0,109.6L213.0,109.5L215.0,109.4L217.0,109.2L219.0,109.1L221.0,109.0L223.0,108.8L225.0,108.7L227.0,108.6L229.0,108.5L231.0,108.3L233.0,108.2L235.0,108.1L237.0,108.0L239.0,107.9L241.0,107.7L243.0,107.6L245.0,107.5L247.0,107.4L249.0,107.3L251.0,107.2L253.0,107.1L255.0,107.0L257.0,106.9L259.0,106.8L261.0,106.7L263.0,106.6L265.0,106.5L267.0,106.4L269.0,106.3L271.0,106.2L273.0,106.1L275.0,106.0L277.0,105.9L279.0,105.8L281.0,105.7L283.0,105.6L285.0,105.5L287.0,105.4L289.0,105.4L291.0,105.3L293.0,105.2L295.0,105.1L297.0,105.0L299.0,104.9L301.0,104.9L303.0,104.8L305.0,104.7L307.0,104.6L309.0,104.6L311.0,104.5L313.0,104.4L315.0,104.3L317.0,104.3L319.0,104.2L321.0,104.1L323.0,104.0L325.0,104.0L327.0,103.9L329.0,103.8L331.0,103.8L333.0,103.7L335.0,103.6L337.0,103.6L339.0,103.5L341.0,103.5L343.0,103.4L345.1,103.3L347.1,103.3L349.1,103.2L351.1,103.1L353.1,103.1L355.1,103.0L357.1,103.0L359.1,102.9L361.1,102.8L363.1,102.8L365.1,102.7L367.1,102.7L369.1,102.6L371.1,102.6L373.1,102.5L375.1,102.5L377.1,102.4L379.1,102.3L381.1,102.3L383.1,102.2L385.1,102.2L387.1,102.1L389.1,102.1L391.1,102.0L393.1,102.0L395.1,101.9L397.1,101.9L399.1,101.8L401.1,101.8L403.1,101.7L405.2,101.7L407.2,101.6L409.2,101.6L411.2,101.5L413.2,101.5L415.2,101.4L417.2,101.4L419.2,101.3L421.2,101.3L423.2,101.2L425.2,101.2L427.2,101.1L429.2,101.1L431.2,101.0L433.2,101.0L435.2,100.9L437.2,100.9L439.2,100.8L441.2,100.8L443.2,100.7L445.2,100.7L447.2,100.6L449.2,100.6L451.2,100.5L453.2,100.5L455.2,100.4L457.3,100.4L459.3,100.3L461.3,100.2L463.3,100.2L465.3,100.1L467.3,100.1L469.3,100.0L471.3,100.0L473.3,99.9L475.3,99.9L477.3,99.8L479.3,99.8L481.3,99.7L483.3,99.6L485.3,99.6L487.3,99.5L489.3,99.5L491.3,99.4L493.3,99.4L495.3,99.3L497.3,99.2L499.3,99.2L501.3,99.1L503.3,99.1L505.3,99.0L507.3,98.9L509.3,98.9L511.3,98.8L513.3,98.7L515.4,98.7L517.4,98.6L519.4,98.5L521.4,98.5L523.4,98.4L525.4,98.3L527.4,98.3L529.4,98.2L531.4,98.1L533.4,98.0L535.4,98.0L537.4,97.9L539.4,97.8L541.4,97.7L543.4,97.7L545.4,97.6L547.4,97.5L549.4,97.4L551.4,97.3L553.4,97.3L555.4,97.2L557.4,97.1L559.4,97.0L561.4,96.9L563.4,96.8L565.4,96.8L567.4,96.7L569.4,96.6L571.4,96.5L573.4,96.4L575.4,96.3L577.4,96.2L579.4,96.1L581.4,96.0L583.4,95.9L585.4,95.8L587.4,95.7L589.4,95.6L591.4,95.5L593.4,95.4L595.4,95.3L597.4,95.2L599.4,95.1L601.4,95.0L603.4,94.9L605.4,94.8L607.4,94.7L609.4,94.6L611.4,94.5L613.4,94.4L615.4,94.3L617.4,94.1L619.5,94.0L621.5,93.9L623.5,93.8L625.5,93.7L627.5,93.6L629.5,93.5L631.5,93.4L633.5,93.3L635.5,93.2L637.5,93.1L639.5,92.9L641.5,92.8L643.5,92.7L645.5,92.6L647.5,92.5L649.5,92.4L651.5,92.3L653.5,92.2L655.5,92.1L657.5,91.9L659.5,91.8L661.5,91.7L663.5,91.6L665.5,91.5L667.5,91.4L669.5,91.3L671.5,91.2L673.5,91.1L675.5,91.0L677.5,90.9L679.5,90.8L681.5,90.7L683.5,90.6L685.5,90.5L687.5,90.4L689.5,90.3L691.5,90.2L693.5,90.1L695.5,90.0L697.5,89.9L699.5,89.8L701.5,89.7L703.5,89.6L705.5,89.5L707.5,89.4L709.5,89.3L711.5,89.2L713.5,89.1L715.5,89.0L717.5,88.9L719.5,88.8L721.5,88.8L723.5,88.7L725.5,88.6L727.5,88.5L729.5,88.4L731.5,88.4L733.5,88.3L735.5,88.2L737.5,88.1L739.5,88.1L741.5,88.0L743.5,87.9L745.5,87.9L747.5,87.8L749.5,87.7L751.5,87.7L753.5,87.6L755.5,87.5L757.5,87.5L759.5,87.4L761.6,87.4L763.6,87.3L765.6,87.3L767.6,87.2L769.6,87.2L771.6,87.1L773.6,87.1L775.6,87.1L777.6,87.0L779.6,87.0L781.6,87.0L783.6,86.9L785.6,86.9L787.6,86.9L789.6,86.9L791.6,86.8L793.6,86.8L795.6,86.8L797.6,86.8L799.6,86.8L801.6,86.8L803.6,86.8L805.7,86.8L807.7,86.8L809.7,86.8L811.7,86.8L813.7,86.8L815.7,86.8L817.7,86.8L819.7,86.8L821.7,86.9L823.7,86.9L825.7,86.9L827.7,86.9L829.7,87.0L831.7,87.0L833.7,87.1L835.7,87.1L837.7,87.2L839.8,87.3L841.8,87.3L843.8,87.4L845.8,87.5L847.8,87.6L849.8,87.7L851.8,87.8L853.8,87.9L855.8,88.0L857.8,88.2L859.8,88.3L861.8,88.5L863.8,88.6L865.8,88.8L867.8,89.0L869.8,89.1L871.8,89.3L873.8,89.5L875.8,89.7L877.8,90.0L879.8,90.2L881.7,90.4L883.7,90.7L885.7,91.0L887.7,91.2L889.7,91.5L891.7,91.8L893.7,92.1L895.7,92.5L897.6,92.8L899.6,93.2L901.6,93.6L903.5,94.1L905.4,94.6L907.3,95.1L909.2,95.7L911.1,96.3L912.9,97.0L914.7,97.8L916.5,98.6L918.3,99.5L920.0,100.5L921.7,101.6L923.4,102.7L925.0,103.9L926.6,105.2L928.2,106.5L929.7,107.8L931.2,109.2L932.6,110.6L934.1,112.0L935.5,113.5L936.8,114.9L938.2,116.4L939.5,117.9L940.7,119.5L942.0,121.0L943.2,122.6L944.4,124.2L945.6,125.8L946.7,127.4L947.8,129.0L948.9,130.7L949.9,132.3L951.0,134.0L952.0,135.7L953.0,137.4L953.9,139.1L954.9,140.8L955.8,142.6L956.7,144.4L957.6,146.1L958.4,147.9L959.2,149.7L960.0,151.5L960.8,153.3L961.6,155.2L962.4,157.0L963.1,158.9L963.8,160.7L964.5,162.6L965.2,164.5L965.9,166.3L966.6,168.2L967.2,170.1L967.9,172.1L968.5,174.0L969.1,175.9L969.7,177.8L970.3,179.8L970.8,181.7L971.4,183.6L972.0,185.6L972.5,187.5L973.0,189.5L973.6,191.5L974.1,193.4L974.6,195.4L975.1,197.4L975.6,199.3L976.1,201.3L976.6,203.3L977.1,205.3L977.6,207.2L978.1,209.2L978.5,211.2L979.0,213.2L979.5,215.2L980.0,217.1L980.4,219.1L980.9,221.1L981.3,223.1L981.8,225.0L982.3,227.0L982.7,229.0L983.2,230.9L983.6,232.9L984.1,234.9L984.5,236.9L985.0,238.8L985.4,240.8L985.8,242.8L986.3,244.7L986.7,246.7L987.1,248.7L987.6,250.6L988.0,252.6L988.4,254.6L988.8,256.5L989.3,258.5L989.7,260.5L990.1,262.4L990.5,264.4L990.9,266.4L991.3,268.3L991.7,270.3L992.1,272.2L992.5,274.2L992.9,276.2L993.2,278.1L993.6,280.1L994.0,282.0L994.4,284.0L994.8,286.0L995.1,287.9L995.5,289.9L995.8,291.8L996.2,293.8L996.6,295.7L996.9,297.7L997.3,299.6L997.6,301.6L997.9,303.6L998.3,305.5L998.6,307.5L998.9,309.4L999.3,311.4L999.6,313.3L999.9,315.3L1000.2,317.2L1000.5,319.2L1000.8,321.1L1001.1,323.1L1001.4,325.0L1001.7,327.0L1002.0,328.9L1002.3,330.9L1002.6,332.8L1002.9,334.8L1003.2,336.7L1003.5,338.7L1003.8,340.6L1004.1,342.6L1004.4,344.5L1004.7,346.5L1005.0,348.5L1005.3,350.4L1005.6,352.4L1005.9,354.3L1006.2,356.3L1006.5,358.2L1006.9,360.2L1007.2,362.2L1007.5,364.1L1007.8,366.1L1008.2,368.0L1008.5,370.0L1008.8,372.0L1009.2,373.9L1009.5,375.9L1009.9,377.9L1010.3,379.8L1010.6,381.8L1011.0,383.8L1011.4,385.8L1011.8,387.7L1012.2,389.7L1012.6,391.7L1013.0,393.7L1013.4,395.6L1013.8,397.6L1014.3,399.6L1014.7,401.6L1015.2,403.6L1015.6,405.5L1016.1,407.5L1016.6,409.5L1017.0,411.5L1017.5,413.4L1018.0,415.4L1018.5,417.4L1019.0,419.4L1019.6,421.3L1020.1,423.3L1020.6,425.3L1021.2,427.2L1021.7,429.2L1022.3,431.2L1022.8,433.1L1023.4,435.1L1024.0,437.0L1024.6,439.0L1025.2,440.9L1025.8,442.9L1026.4,444.8L1027.1,446.7L1027.7,448.7L1028.4,450.6L1029.0,452.5L1029.7,454.5L1030.4,456.4L1031.0,458.3L1031.7,460.2L1032.4,462.1L1033.2,464.0L1033.9,465.9L1034.6,467.8L1035.4,469.7L1036.1,471.6L1036.9,473.4L1037.7,475.3L1038.5,477.2L1039.3,479.0L1040.1,480.9L1040.9,482.7L1041.7,484.6L1042.5,486.4L1043.4,488.2L1044.3,490.0L1045.1,491.9L1046.0,493.7L1046.9,495.5L1047.8,497.2L1048.7,499.0L1049.7,500.8L1050.6,502.6L1051.5,504.3L1052.5,506.1L1053.5,507.8L1054.5,509.6L1055.5,511.3L1056.5,513.0L1057.5,514.7L1058.5,516.4L1059.6,518.1L1060.6,519.8L1061.7,521.4L1062.8,523.1L1063.9,524.8L1065.0,526.4L1066.1,528.0L1067.2,529.7L1068.4,531.3L1069.5,532.9L1070.7,534.5L1071.9,536.0L1073.1,537.6L1074.3,539.2L1075.5,540.7L1076.8,542.2L1078.0,543.8L1079.3,545.3L1080.5,546.8L1081.8,548.3L1083.1,549.7L1084.4,551.2L1085.8,552.6L1087.1,554.1L1088.5,555.5L1089.8,556.9L1091.2,558.3L1092.6,559.7L1094.0,561.1L1095.5,562.5L1096.9,563.8L1098.4,565.1L1099.8,566.5L1101.3,567.8L1102.8,569.1L1104.3,570.4L1105.8,571.7L1107.3,572.9L1108.8,574.2L1110.4,575.4L1111.9,576.7L1113.5,577.9L1115.1,579.1L1116.6,580.3L1118.2,581.5L1119.8,582.7L1121.5,583.8L1123.1,585.0L1124.7,586.2L1126.4,587.3L1128.0,588.4L1129.7,589.5L1131.3,590.6L1133.0,591.7L1134.7,592.8L1136.4,593.9L1138.1,594.9L1139.8,596.0L1141.6,597.0L1143.3,598.1L1145.0,599.1L1146.8,600.1L1148.5,601.1L1150.3,602.1L1152.0,603.1L1153.8,604.1L1155.6,605.0L1157.4,606.0L1159.2,606.9L1161.0,607.9L1162.8,608.8L1164.6,609.7L1166.4,610.6L1168.2,611.5L1170.0,612.4L1171.9,613.3L1173.7,614.2L1175.5,615.1L1177.4,615.9L1179.2,616.8L1181.1,617.6L1182.9,618.4L1184.8,619.3L1186.6,620.1L1188.5,620.9L1190.4,621.7L1192.3,622.5L1194.1,623.3L1196.0,624.0L1197.9,624.8L1199.8,625.6L1201.7,626.3L1203.6,627.1L1205.4,627.8L1207.3,628.5L1209.2,629.2L1211.1,630.0L1213.0,630.7L1214.9,631.4L1216.8,632.1L1218.7,632.8L1220.6,633.4L1222.5,634.1L1224.4,634.8L1226.3,635.4L1228.2,636.1L1230.1,636.7L1232.0,637.4L1233.9,638.0L1235.8,638.6L1237.8,639.2L1239.7,639.9L1241.6,640.5L1243.5,641.1L1245.4,641.6L1247.3,642.2L1249.2,642.8L1251.1,643.4L1253.0,643.9L1254.9,644.5L1256.9,645.0L1258.8,645.6L1260.7,646.1L1262.6,646.6L1264.5,647.2L1266.4,647.7L1268.4,648.2L1270.3,648.7L1272.2,649.2L1274.1,649.6L1276.1,650.1L1278.0,650.6L1279.9,651.0L1281.8,651.5L1283.8,651.9L1285.7,652.4L1287.6,652.8L1289.6,653.2L1291.5,653.6L1293.4,654.1L1295.4,654.5L1297.3,654.8L1299.3,655.2L1301.2,655.6L1303.2,656.0L1305.1,656.3L1307.1,656.7L1309.0,657.0L1311.0,657.4L1312.9,657.7L1314.9,658.0L1316.8,658.4L1318.8,658.7L1320.8,659.0L1322.7,659.3L1324.7,659.6L1326.7,659.8L1328.6,660.1L1330.6,660.4L1332.6,660.6L1334.5,660.9L1336.5,661.1L1338.5,661.4L1340.5,661.6L1342.5,661.8L1344.5,662.0L1346.4,662.2L1348.4,662.4L1350.4,662.6L1352.4,662.8L1354.4,662.9L1356.4,663.1L1358.4,663.2L1360.4,663.4L1362.4,663.5L1364.4,663.7L1366.4,663.8L1368.5,663.9L1370.5,664.0L1372.5,664.1L1374.5,664.2L1376.5,664.3L1378.5,664.4L1380.5,664.5L1382.6,664.6L1384.6,664.7L1386.6,664.7L1388.6,664.8L1390.6,664.9L1392.7,664.9L1394.7,665.0L1396.7,665.0L1398.7,665.1L1400.8,665.1L1402.8,665.1L1404.8,665.2L1406.8,665.2L1408.9,665.2L1410.9,665.3L1412.9,665.3L1414.9,665.3L1417.0,665.3L1419.0,665.3L1421.0,665.3L1423.0,665.3L1425.0,665.4L1427.1,665.4L1429.1,665.4L1431.1,665.4L1433.1,665.4L1435.1,665.4L1437.1,665.4L1439.2,665.4L1441.2,665.4L1443.2,665.4L1445.2,665.4L1447.2,665.4L1449.2,665.4L1451.2,665.4L1453.2,665.4L1455.2,665.4L1457.2,665.4L1459.2,665.4L1461.2,665.4L1463.2,665.4L1465.2,665.4L1467.2,665.4L1469.2,665.4L1471.1,665.4L1473.1,665.4L1475.1,665.4L1477.1,665.5L1479.0,665.5L1481.0,665.5" fill="none" stroke="#ff0000" stroke-width="5.2" stroke-linejoin="round" stroke-linecap="butt"/>
<path d="M195.0,123.0L197.0,123.2L199.1,123.4L201.1,123.5L203.1,123.6L205.1,123.6L207.1,123.5L209.1,123.4L211.1,123.3L213.1,123.1L215.1,122.9L217.1,122.6L219.0,122.4L221.0,122.1L223.0,121.7L225.0,121.4L226.9,121.1L228.9,120.7L230.9,120.3L232.8,119.9L234.8,119.6L236.8,119.2L238.7,118.8L240.7,118.5L242.7,118.1L244.7,117.8L246.6,117.5L248.6,117.2L250.6,116.9L252.6,116.6L254.6,116.4L256.6,116.2L258.6,116.0L260.6,115.8L262.5,115.6L264.5,115.4L266.5,115.2L268.5,115.1L270.5,114.9L272.5,114.8L274.5,114.7L276.5,114.5L278.5,114.4L280.5,114.3L282.5,114.2L284.5,114.1L286.5,114.0L288.5,113.9L290.6,113.7L292.6,113.6L294.6,113.5L296.6,113.4L298.6,113.3L300.6,113.2L302.6,113.1L304.6,113.1L306.6,113.0L308.6,112.9L310.6,112.8L312.6,112.7L314.6,112.6L316.6,112.5L318.6,112.4L320.6,112.4L322.6,112.3L324.6,112.2L326.6,112.1L328.6,112.0L330.6,112.0L332.6,111.9L334.6,111.8L336.6,111.7L338.6,111.7L340.6,111.6L342.6,111.5L344.6,111.5L346.6,111.4L348.6,111.3L350.6,111.3L352.6,111.2L354.6,111.1L356.6,111.1L358.6,111.0L360.6,110.9L362.6,110.9L364.6,110.8L366.6,110.7L368.6,110.7L370.6,110.6L372.6,110.6L374.6,110.5L376.6,110.4L378.6,110.4L380.6,110.3L382.6,110.3L384.6,110.2L386.6,110.1L388.6,110.1L390.6,110.0L392.6,110.0L394.6,109.9L396.6,109.8L398.6,109.8L400.6,109.7L402.6,109.7L404.6,109.6L406.6,109.5L408.6,109.5L410.6,109.4L412.6,109.4L414.6,109.3L416.6,109.2L418.6,109.2L420.6,109.1L422.6,109.1L424.6,109.0L426.6,108.9L428.6,108.9L430.6,108.8L432.6,108.7L434.6,108.7L436.6,108.6L438.6,108.5L440.6,108.5L442.6,108.4L444.6,108.3L446.6,108.2L448.6,108.2L450.7,108.1L452.7,108.0L454.7,108.0L456.7,107.9L458.7,107.8L460.7,107.7L462.7,107.6L464.7,107.6L466.7,107.5L468.7,107.4L470.7,107.3L472.7,107.2L474.7,107.1L476.7,107.0L478.7,107.0L480.7,106.9L482.7,106.8L484.7,106.7L486.7,106.6L488.7,106.5L490.7,106.4L492.7,106.3L494.7,106.2L496.7,106.1L498.7,106.0L500.7,105.9L502.7,105.8L504.7,105.7L506.7,105.6L508.7,105.5L510.8,105.4L512.8,105.3L514.8,105.2L516.8,105.1L518.8,105.0L520.8,104.8L522.8,104.7L524.8,104.6L526.8,104.5L528.8,104.4L530.8,104.3L532.8,104.2L534.8,104.1L536.8,103.9L538.8,103.8L540.8,103.7L542.8,103.6L544.8,103.5L546.8,103.3L548.8,103.2L550.8,103.1L552.8,103.0L554.8,102.9L556.8,102.7L558.9,102.6L560.9,102.5L562.9,102.4L564.9,102.2L566.9,102.1L568.9,102.0L570.9,101.9L572.9,101.7L574.9,101.6L576.9,101.5L578.9,101.4L580.9,101.2L582.9,101.1L584.9,101.0L586.9,100.8L588.9,100.7L590.9,100.6L592.9,100.5L594.9,100.3L596.9,100.2L598.9,100.1L600.9,99.9L602.9,99.8L604.9,99.7L606.9,99.5L608.9,99.4L610.9,99.3L613.0,99.1L615.0,99.0L617.0,98.9L619.0,98.7L621.0,98.6L623.0,98.5L625.0,98.3L627.0,98.2L629.0,98.1L631.0,97.9L633.0,97.8L635.0,97.7L637.0,97.5L639.0,97.4L641.0,97.3L643.0,97.1L645.0,97.0L647.0,96.9L649.0,96.7L651.0,96.6L653.0,96.5L655.0,96.3L657.0,96.2L659.0,96.1L661.0,95.9L663.0,95.8L665.0,95.7L667.0,95.5L669.0,95.4L671.0,95.3L673.0,95.1L675.0,95.0L677.0,94.9L679.0,94.7L681.0,94.6L683.0,94.5L685.0,94.3L687.0,94.2L689.0,94.1L691.0,93.9L693.0,93.8L695.0,93.7L697.0,93.5L699.0,93.4L701.0,93.3L703.0,93.2L705.0,93.0L707.0,92.9L709.0,92.8L711.0,92.7L713.0,92.5L715.0,92.4L717.0,92.3L719.0,92.1L721.0,92.0L722.9,91.9L724.9,91.8L726.9,91.7L728.9,91.5L730.9,91.4L732.9,91.3L734.9,91.2L736.9,91.1L738.9,90.9L740.9,90.8L742.9,90.7L744.9,90.6L746.9,90.5L748.9,90.4L750.9,90.2L752.9,90.1L754.9,90.0L756.9,89.9L758.8,89.8L760.8,89.7L762.8,89.6L764.8,89.5L766.8,89.4L768.8,89.2L770.8,89.1L772.8,89.0L774.8,88.9L776.8,88.8L778.8,88.7L780.8,88.6L782.7,88.5L784.7,88.4L786.7,88.3L788.7,88.2L790.7,88.1L792.7,88.0L794.7,88.0L796.7,87.9L798.7,87.8L800.7,87.7L802.7,87.6L804.7,87.5L806.7,87.4L808.7,87.4L810.7,87.3L812.7,87.2L814.7,87.1L816.7,87.1L818.7,87.0L820.7,86.9L822.7,86.9L824.7,86.8L826.7,86.7L828.7,86.7L830.7,86.6L832.7,86.6L834.7,86.5L836.7,86.5L838.8,86.4L840.8,86.4L842.8,86.4L844.8,86.3L846.8,86.3L848.9,86.3L850.9,86.2L852.9,86.2L854.9,86.2L857.0,86.2L859.0,86.1L861.0,86.1L863.1,86.1L865.1,86.1L867.2,86.1L869.2,86.1L871.3,86.1L873.3,86.1L875.3,86.2L877.4,86.2L879.4,86.2L881.5,86.3L883.5,86.3L885.6,86.4L887.6,86.5L889.6,86.6L891.6,86.8L893.7,86.9L895.7,87.1L897.7,87.4L899.6,87.6L901.6,87.9L903.6,88.2L905.5,88.6L907.4,89.0L909.3,89.4L911.2,89.9L913.1,90.5L915.0,91.0L916.8,91.7L918.6,92.3L920.4,93.1L922.2,93.9L923.9,94.7L925.6,95.6L927.3,96.6L929.0,97.6L930.6,98.7L932.3,99.8L933.9,101.0L935.4,102.2L937.0,103.5L938.5,104.8L939.9,106.1L941.4,107.5L942.8,109.0L944.2,110.4L945.6,111.9L946.9,113.5L948.2,115.0L949.4,116.6L950.7,118.3L951.9,119.9L953.1,121.6L954.2,123.3L955.3,125.0L956.4,126.7L957.4,128.4L958.4,130.2L959.4,131.9L960.3,133.7L961.2,135.5L962.1,137.3L963.0,139.1L963.8,140.9L964.6,142.8L965.4,144.6L966.1,146.5L966.8,148.3L967.5,150.2L968.2,152.1L968.9,154.0L969.5,155.9L970.1,157.8L970.7,159.7L971.3,161.6L971.9,163.5L972.4,165.4L973.0,167.4L973.5,169.3L974.0,171.2L974.5,173.2L975.0,175.1L975.5,177.1L976.0,179.0L976.4,181.0L976.9,182.9L977.4,184.9L977.8,186.9L978.3,188.8L978.7,190.8L979.2,192.7L979.6,194.7L980.1,196.6L980.5,198.6L981.0,200.6L981.4,202.5L981.8,204.5L982.2,206.4L982.7,208.4L983.1,210.4L983.5,212.3L983.9,214.3L984.3,216.3L984.8,218.2L985.2,220.2L985.6,222.2L986.0,224.1L986.4,226.1L986.8,228.1L987.2,230.0L987.6,232.0L988.0,234.0L988.4,235.9L988.7,237.9L989.1,239.9L989.5,241.8L989.9,243.8L990.3,245.8L990.7,247.7L991.0,249.7L991.4,251.7L991.8,253.6L992.2,255.6L992.5,257.6L992.9,259.6L993.3,261.5L993.7,263.5L994.0,265.5L994.4,267.4L994.8,269.4L995.1,271.4L995.5,273.4L995.8,275.3L996.2,277.3L996.6,279.3L996.9,281.2L997.3,283.2L997.6,285.2L998.0,287.2L998.4,289.1L998.7,291.1L999.1,293.1L999.4,295.0L999.8,297.0L1000.1,299.0L1000.5,301.0L1000.9,302.9L1001.2,304.9L1001.6,306.9L1001.9,308.8L1002.3,310.8L1002.6,312.8L1003.0,314.7L1003.4,316.7L1003.7,318.7L1004.1,320.7L1004.4,322.6L1004.8,324.6L1005.1,326.6L1005.5,328.5L1005.9,330.5L1006.2,332.5L1006.6,334.4L1007.0,336.4L1007.3,338.4L1007.7,340.3L1008.0,342.3L1008.4,344.3L1008.8,346.2L1009.2,348.2L1009.5,350.2L1009.9,352.1L1010.3,354.1L1010.6,356.1L1011.0,358.0L1011.4,360.0L1011.8,361.9L1012.2,363.9L1012.5,365.9L1012.9,367.8L1013.3,369.8L1013.7,371.7L1014.1,373.7L1014.5,375.7L1014.9,377.6L1015.3,379.6L1015.7,381.5L1016.1,383.5L1016.5,385.4L1016.9,387.4L1017.3,389.4L1017.8,391.3L1018.2,393.3L1018.6,395.2L1019.1,397.2L1019.5,399.1L1020.0,401.1L1020.4,403.0L1020.9,405.0L1021.3,406.9L1021.8,408.8L1022.3,410.8L1022.8,412.7L1023.2,414.7L1023.7,416.6L1024.2,418.6L1024.7,420.5L1025.3,422.4L1025.8,424.4L1026.3,426.3L1026.8,428.2L1027.4,430.2L1027.9,432.1L1028.5,434.0L1029.0,436.0L1029.6,437.9L1030.2,439.8L1030.8,441.7L1031.4,443.7L1032.0,445.6L1032.6,447.5L1033.2,449.4L1033.9,451.3L1034.5,453.2L1035.2,455.1L1035.8,457.0L1036.5,459.0L1037.2,460.9L1037.9,462.7L1038.6,464.6L1039.3,466.5L1040.0,468.4L1040.7,470.3L1041.5,472.2L1042.2,474.0L1043.0,475.9L1043.8,477.8L1044.6,479.6L1045.4,481.5L1046.2,483.3L1047.0,485.2L1047.8,487.0L1048.7,488.8L1049.5,490.6L1050.4,492.4L1051.3,494.3L1052.2,496.1L1053.1,497.8L1054.0,499.6L1055.0,501.4L1055.9,503.2L1056.9,504.9L1057.9,506.7L1058.8,508.4L1059.8,510.2L1060.9,511.9L1061.9,513.6L1062.9,515.3L1064.0,517.0L1065.1,518.7L1066.1,520.4L1067.3,522.0L1068.4,523.7L1069.5,525.3L1070.6,527.0L1071.8,528.6L1073.0,530.2L1074.2,531.8L1075.4,533.4L1076.6,535.0L1077.8,536.6L1079.1,538.1L1080.4,539.7L1081.7,541.2L1083.0,542.7L1084.3,544.2L1085.6,545.7L1086.9,547.2L1088.3,548.7L1089.7,550.1L1091.1,551.6L1092.4,553.0L1093.9,554.4L1095.3,555.9L1096.7,557.3L1098.2,558.6L1099.6,560.0L1101.1,561.4L1102.6,562.7L1104.1,564.0L1105.6,565.4L1107.1,566.7L1108.6,568.0L1110.2,569.2L1111.7,570.5L1113.3,571.8L1114.9,573.0L1116.5,574.2L1118.1,575.4L1119.7,576.6L1121.3,577.8L1122.9,579.0L1124.5,580.2L1126.2,581.3L1127.8,582.4L1129.5,583.6L1131.2,584.7L1132.8,585.7L1134.5,586.8L1136.2,587.9L1137.9,588.9L1139.6,590.0L1141.3,591.0L1143.1,592.0L1144.8,593.0L1146.5,594.0L1148.3,595.0L1150.1,595.9L1151.8,596.9L1153.6,597.8L1155.4,598.7L1157.1,599.7L1158.9,600.6L1160.7,601.5L1162.5,602.3L1164.3,603.2L1166.1,604.1L1167.9,604.9L1169.8,605.8L1171.6,606.6L1173.4,607.5L1175.3,608.3L1177.1,609.1L1178.9,609.9L1180.8,610.7L1182.6,611.4L1184.5,612.2L1186.4,613.0L1188.2,613.7L1190.1,614.5L1192.0,615.2L1193.8,616.0L1195.7,616.7L1197.6,617.4L1199.5,618.1L1201.4,618.9L1203.3,619.6L1205.2,620.3L1207.0,620.9L1208.9,621.6L1210.8,622.3L1212.7,623.0L1214.6,623.7L1216.5,624.3L1218.4,625.0L1220.3,625.6L1222.2,626.3L1224.2,626.9L1226.1,627.6L1228.0,628.2L1229.9,628.8L1231.8,629.5L1233.7,630.1L1235.6,630.7L1237.5,631.3L1239.4,631.9L1241.3,632.5L1243.3,633.1L1245.2,633.7L1247.1,634.3L1249.0,634.9L1250.9,635.4L1252.8,636.0L1254.8,636.6L1256.7,637.1L1258.6,637.7L1260.5,638.2L1262.5,638.8L1264.4,639.3L1266.3,639.8L1268.3,640.3L1270.2,640.8L1272.1,641.3L1274.1,641.8L1276.0,642.3L1277.9,642.8L1279.9,643.3L1281.8,643.8L1283.7,644.2L1285.7,644.7L1287.6,645.2L1289.6,645.6L1291.5,646.0L1293.5,646.5L1295.4,646.9L1297.4,647.3L1299.3,647.7L1301.3,648.1L1303.2,648.5L1305.2,648.9L1307.1,649.3L1309.1,649.6L1311.1,650.0L1313.0,650.4L1315.0,650.7L1316.9,651.0L1318.9,651.4L1320.9,651.7L1322.8,652.0L1324.8,652.3L1326.8,652.6L1328.8,652.9L1330.7,653.2L1332.7,653.4L1334.7,653.7L1336.7,653.9L1338.7,654.2L1340.6,654.4L1342.6,654.6L1344.6,654.8L1346.6,655.1L1348.6,655.2L1350.6,655.4L1352.6,655.6L1354.6,655.8L1356.6,655.9L1358.6,656.1L1360.6,656.2L1362.6,656.4L1364.6,656.5L1366.6,656.6L1368.6,656.7L1370.6,656.8L1372.6,656.9L1374.6,657.0L1376.6,657.1L1378.6,657.2L1380.7,657.3L1382.7,657.3L1384.7,657.4L1386.7,657.5L1388.7,657.5L1390.7,657.6L1392.7,657.6L1394.8,657.7L1396.8,657.7L1398.8,657.8L1400.8,657.8L1402.8,657.9L1404.9,657.9L1406.9,657.9L1408.9,658.0L1410.9,658.0L1412.9,658.0L1414.9,658.1L1417.0,658.1L1419.0,658.1L1421.0,658.2L1423.0,658.2L1425.0,658.2L1427.0,658.3L1429.1,658.3L1431.1,658.4L1433.1,658.4L1435.1,658.5L1437.1,658.5L1439.1,658.6L1441.1,658.6L1443.1,658.7L1445.1,658.7L1447.1,658.8L1449.1,658.9L1451.2,659.0L1453.2,659.1L1455.2,659.1L1457.2,659.2L1459.2,659.4L1461.1,659.5L1463.1,659.6L1465.1,659.7L1467.1,659.8L1469.1,660.0L1471.1,660.1L1473.1,660.3L1475.1,660.5L1477.0,660.6L1479.0,660.8L1481.0,661.0" fill="none" stroke="#0000ff" stroke-width="5.2" stroke-linejoin="round" stroke-linecap="butt"/>
<path d="M195.0,118.0L197.0,118.0L199.0,118.0L201.0,118.0L203.0,118.0L205.0,117.9L207.0,117.9L209.0,117.9L211.0,117.9L213.0,117.9L215.1,117.9L217.1,117.9L219.1,117.9L221.1,117.9L223.1,117.8L225.1,117.8L227.1,117.8L229.1,117.8L231.1,117.8L233.1,117.8L235.1,117.8L237.1,117.8L239.1,117.8L241.1,117.7L243.1,117.7L245.1,117.7L247.1,117.7L249.1,117.7L251.1,117.7L253.1,117.7L255.2,117.7L257.2,117.7L259.2,117.7L261.2,117.6L263.2,117.6L265.2,117.6L267.2,117.6L269.2,117.6L271.2,117.6L273.2,117.6L275.2,117.6L277.2,117.6L279.2,117.6L281.2,117.5L283.2,117.5L285.2,117.5L287.2,117.5L289.2,117.5L291.2,117.5L293.2,117.5L295.2,117.5L297.2,117.5L299.2,117.5L301.2,117.4L303.2,117.4L305.3,117.4L307.3,117.4L309.3,117.4L311.3,117.4L313.3,117.4L315.3,117.4L317.3,117.4L319.3,117.3L321.3,117.3L323.3,117.3L325.3,117.3L327.3,117.3L329.3,117.3L331.3,117.3L333.3,117.3L335.3,117.3L337.3,117.2L339.3,117.2L341.3,117.2L343.3,117.2L345.3,117.2L347.3,117.2L349.3,117.2L351.3,117.2L353.3,117.2L355.3,117.1L357.3,117.1L359.3,117.1L361.3,117.1L363.4,117.1L365.4,117.1L367.4,117.1L369.4,117.1L371.4,117.0L373.4,117.0L375.4,117.0L377.4,117.0L379.4,117.0L381.4,117.0L383.4,117.0L385.4,116.9L387.4,116.9L389.4,116.9L391.4,116.9L393.4,116.9L395.4,116.9L397.4,116.9L399.4,116.8L401.4,116.8L403.4,116.8L405.4,116.8L407.4,116.8L409.4,116.8L411.4,116.7L413.4,116.7L415.4,116.7L417.4,116.7L419.4,116.7L421.4,116.7L423.4,116.6L425.4,116.6L427.4,116.6L429.4,116.6L431.4,116.6L433.5,116.5L435.5,116.5L437.5,116.5L439.5,116.5L441.5,116.5L443.5,116.5L445.5,116.4L447.5,116.4L449.5,116.4L451.5,116.4L453.5,116.4L455.5,116.3L457.5,116.3L459.5,116.3L461.5,116.3L463.5,116.2L465.5,116.2L467.5,116.2L469.5,116.2L471.5,116.2L473.5,116.1L475.5,116.1L477.5,116.1L479.5,116.1L481.5,116.0L483.5,116.0L485.5,116.0L487.5,116.0L489.5,115.9L491.5,115.9L493.5,115.9L495.5,115.9L497.5,115.8L499.5,115.8L501.5,115.8L503.6,115.8L505.6,115.7L507.6,115.7L509.6,115.7L511.6,115.6L513.6,115.6L515.6,115.6L517.6,115.6L519.6,115.5L521.6,115.5L523.6,115.5L525.6,115.4L527.6,115.4L529.6,115.4L531.6,115.3L533.6,115.3L535.6,115.3L537.6,115.2L539.6,115.2L541.6,115.2L543.6,115.1L545.6,115.1L547.6,115.1L549.6,115.0L551.6,115.0L553.6,115.0L555.6,114.9L557.6,114.9L559.6,114.9L561.6,114.8L563.7,114.8L565.7,114.8L567.7,114.7L569.7,114.7L571.7,114.6L573.7,114.6L575.7,114.6L577.7,114.5L579.7,114.5L581.7,114.4L583.7,114.4L585.7,114.4L587.7,114.3L589.7,114.3L591.7,114.2L593.7,114.2L595.7,114.1L597.7,114.1L599.7,114.1L601.7,114.0L603.7,114.0L605.7,113.9L607.7,113.9L609.7,113.8L611.7,113.8L613.7,113.7L615.8,113.7L617.8,113.6L619.8,113.6L621.8,113.5L623.8,113.5L625.8,113.5L627.8,113.4L629.8,113.3L631.8,113.3L633.8,113.2L635.8,113.2L637.8,113.1L639.8,113.1L641.8,113.0L643.8,113.0L645.8,112.9L647.8,112.9L649.8,112.8L651.8,112.8L653.8,112.7L655.8,112.7L657.9,112.6L659.9,112.5L661.9,112.5L663.9,112.4L665.9,112.4L667.9,112.3L669.9,112.2L671.9,112.2L673.9,112.1L675.9,112.1L677.9,112.0L679.9,111.9L681.9,111.9L683.9,111.8L685.9,111.7L687.9,111.7L689.9,111.6L691.9,111.6L694.0,111.5L696.0,111.4L698.0,111.4L700.0,111.3L702.0,111.2L704.0,111.2L706.0,111.1L708.0,111.0L710.0,111.0L712.0,110.9L714.0,110.9L716.0,110.8L718.0,110.7L720.0,110.7L722.0,110.6L724.0,110.6L726.0,110.5L728.0,110.5L730.1,110.4L732.1,110.3L734.1,110.3L736.1,110.2L738.1,110.2L740.1,110.1L742.1,110.1L744.1,110.1L746.1,110.0L748.1,110.0L750.1,109.9L752.1,109.9L754.1,109.8L756.1,109.8L758.1,109.8L760.1,109.7L762.1,109.7L764.1,109.7L766.1,109.6L768.1,109.6L770.1,109.6L772.1,109.6L774.1,109.6L776.1,109.5L778.1,109.5L780.1,109.5L782.1,109.5L784.1,109.5L786.1,109.5L788.1,109.5L790.1,109.5L792.1,109.5L794.1,109.5L796.1,109.5L798.1,109.5L800.1,109.5L802.1,109.5L804.1,109.5L806.1,109.6L808.1,109.6L810.1,109.6L812.1,109.7L814.1,109.7L816.1,109.7L818.1,109.8L820.1,109.8L822.1,109.9L824.1,109.9L826.1,110.0L828.1,110.0L830.1,110.1L832.1,110.2L834.1,110.2L836.1,110.3L838.1,110.4L840.1,110.5L842.1,110.5L844.1,110.6L846.1,110.7L848.1,110.8L850.0,110.9L852.0,111.0L854.0,111.1L856.0,111.3L858.0,111.4L860.0,111.5L862.0,111.7L864.0,111.8L866.0,112.0L868.0,112.2L869.9,112.4L871.9,112.6L873.9,112.8L875.9,113.1L877.9,113.3L879.9,113.6L881.9,113.9L883.9,114.2L885.8,114.5L887.8,114.9L889.8,115.2L891.8,115.6L893.8,116.0L895.8,116.5L897.8,116.9L899.7,117.4L901.7,117.9L903.7,118.5L905.6,119.0L907.6,119.6L909.5,120.3L911.5,120.9L913.4,121.6L915.3,122.3L917.1,123.1L919.0,123.9L920.8,124.7L922.7,125.6L924.4,126.5L926.2,127.4L927.9,128.4L929.7,129.4L931.3,130.5L933.0,131.6L934.6,132.7L936.2,133.9L937.7,135.2L939.2,136.5L940.7,137.8L942.1,139.2L943.5,140.6L944.8,142.0L946.1,143.5L947.4,145.1L948.6,146.7L949.8,148.3L951.0,149.9L952.1,151.6L953.1,153.3L954.2,155.0L955.2,156.7L956.2,158.5L957.1,160.3L958.0,162.1L958.9,163.8L959.8,165.7L960.6,167.5L961.4,169.3L962.2,171.1L962.9,173.0L963.6,174.9L964.3,176.7L965.0,178.6L965.7,180.5L966.3,182.4L966.9,184.3L967.5,186.2L968.1,188.1L968.6,190.1L969.2,192.0L969.7,193.9L970.2,195.9L970.7,197.8L971.2,199.8L971.7,201.7L972.1,203.7L972.6,205.6L973.0,207.6L973.5,209.6L973.9,211.6L974.3,213.5L974.7,215.5L975.2,217.5L975.6,219.5L976.0,221.4L976.4,223.4L976.8,225.4L977.2,227.4L977.6,229.3L978.0,231.3L978.4,233.3L978.9,235.2L979.3,237.2L979.7,239.1L980.2,241.1L980.6,243.1L981.1,245.0L981.5,247.0L982.0,248.9L982.4,250.8L982.9,252.8L983.4,254.7L983.8,256.7L984.3,258.6L984.8,260.5L985.2,262.5L985.7,264.4L986.1,266.4L986.6,268.3L987.0,270.2L987.5,272.2L987.9,274.1L988.4,276.1L988.8,278.0L989.2,280.0L989.6,281.9L990.0,283.9L990.4,285.8L990.8,287.8L991.2,289.8L991.6,291.7L991.9,293.7L992.3,295.7L992.6,297.7L993.0,299.6L993.3,301.6L993.7,303.6L994.0,305.6L994.3,307.6L994.6,309.6L994.9,311.5L995.2,313.5L995.5,315.5L995.8,317.5L996.1,319.5L996.4,321.5L996.7,323.5L997.0,325.5L997.3,327.5L997.6,329.5L997.9,331.5L998.1,333.5L998.4,335.5L998.7,337.5L999.0,339.5L999.3,341.5L999.6,343.4L999.9,345.4L1000.2,347.4L1000.5,349.4L1000.8,351.4L1001.1,353.4L1001.4,355.4L1001.7,357.3L1002.0,359.3L1002.3,361.3L1002.6,363.3L1003.0,365.2L1003.3,367.2L1003.6,369.1L1004.0,371.1L1004.3,373.1L1004.7,375.0L1005.1,377.0L1005.4,378.9L1005.8,380.9L1006.2,382.8L1006.6,384.8L1007.0,386.7L1007.4,388.7L1007.8,390.6L1008.2,392.6L1008.6,394.5L1009.0,396.4L1009.4,398.4L1009.9,400.3L1010.3,402.2L1010.8,404.2L1011.2,406.1L1011.7,408.0L1012.1,410.0L1012.6,411.9L1013.1,413.8L1013.6,415.8L1014.1,417.7L1014.6,419.6L1015.1,421.6L1015.6,423.5L1016.1,425.4L1016.6,427.4L1017.1,429.3L1017.7,431.2L1018.2,433.2L1018.8,435.1L1019.3,437.0L1019.9,439.0L1020.5,440.9L1021.0,442.9L1021.6,444.8L1022.2,446.7L1022.8,448.7L1023.4,450.6L1024.1,452.5L1024.7,454.5L1025.3,456.4L1026.0,458.3L1026.6,460.3L1027.3,462.2L1028.0,464.1L1028.7,466.0L1029.4,467.9L1030.1,469.8L1030.8,471.7L1031.5,473.6L1032.3,475.5L1033.0,477.4L1033.8,479.3L1034.6,481.1L1035.4,483.0L1036.2,484.9L1037.1,486.7L1037.9,488.5L1038.8,490.4L1039.6,492.2L1040.5,494.0L1041.4,495.8L1042.3,497.6L1043.3,499.3L1044.2,501.1L1045.2,502.8L1046.2,504.6L1047.2,506.3L1048.2,508.0L1049.2,509.7L1050.3,511.4L1051.4,513.1L1052.5,514.7L1053.6,516.4L1054.7,518.0L1055.9,519.6L1057.1,521.2L1058.2,522.8L1059.5,524.3L1060.7,525.9L1062.0,527.4L1063.2,528.9L1064.5,530.4L1065.9,531.8L1067.2,533.3L1068.6,534.7L1070.0,536.1L1071.4,537.5L1072.8,538.9L1074.3,540.2L1075.7,541.6L1077.2,542.9L1078.7,544.2L1080.2,545.5L1081.8,546.8L1083.3,548.0L1084.9,549.3L1086.5,550.5L1088.1,551.7L1089.7,552.9L1091.3,554.1L1092.9,555.3L1094.6,556.4L1096.2,557.6L1097.9,558.7L1099.6,559.8L1101.2,561.0L1102.9,562.1L1104.6,563.2L1106.3,564.3L1108.0,565.3L1109.7,566.4L1111.5,567.5L1113.2,568.5L1114.9,569.6L1116.6,570.6L1118.4,571.6L1120.1,572.6L1121.8,573.7L1123.6,574.7L1125.3,575.7L1127.1,576.7L1128.8,577.6L1130.6,578.6L1132.3,579.6L1134.1,580.5L1135.9,581.5L1137.7,582.4L1139.4,583.4L1141.2,584.3L1143.0,585.2L1144.8,586.1L1146.6,587.0L1148.4,587.9L1150.2,588.8L1152.0,589.7L1153.8,590.6L1155.6,591.5L1157.4,592.3L1159.2,593.2L1161.0,594.0L1162.8,594.9L1164.7,595.7L1166.5,596.5L1168.3,597.3L1170.1,598.2L1172.0,599.0L1173.8,599.8L1175.7,600.6L1177.5,601.3L1179.4,602.1L1181.2,602.9L1183.1,603.7L1184.9,604.4L1186.8,605.2L1188.6,605.9L1190.5,606.6L1192.4,607.4L1194.2,608.1L1196.1,608.8L1198.0,609.5L1199.8,610.2L1201.7,610.9L1203.6,611.6L1205.5,612.3L1207.4,613.0L1209.2,613.7L1211.1,614.4L1213.0,615.0L1214.9,615.7L1216.8,616.3L1218.7,617.0L1220.6,617.6L1222.5,618.2L1224.4,618.9L1226.3,619.5L1228.2,620.1L1230.1,620.7L1232.0,621.3L1233.9,621.9L1235.9,622.5L1237.8,623.1L1239.7,623.7L1241.6,624.3L1243.5,624.8L1245.4,625.4L1247.4,626.0L1249.3,626.5L1251.2,627.1L1253.1,627.6L1255.1,628.1L1257.0,628.7L1258.9,629.2L1260.9,629.7L1262.8,630.2L1264.7,630.8L1266.7,631.3L1268.6,631.8L1270.5,632.3L1272.5,632.8L1274.4,633.2L1276.4,633.7L1278.3,634.2L1280.2,634.7L1282.2,635.1L1284.1,635.6L1286.1,636.0L1288.0,636.5L1290.0,636.9L1291.9,637.3L1293.9,637.8L1295.8,638.2L1297.8,638.6L1299.7,639.0L1301.7,639.4L1303.7,639.8L1305.6,640.2L1307.6,640.6L1309.5,641.0L1311.5,641.4L1313.5,641.7L1315.4,642.1L1317.4,642.5L1319.4,642.8L1321.3,643.2L1323.3,643.5L1325.3,643.8L1327.3,644.2L1329.2,644.5L1331.2,644.8L1333.2,645.1L1335.2,645.4L1337.1,645.7L1339.1,646.0L1341.1,646.3L1343.1,646.6L1345.1,646.9L1347.0,647.2L1349.0,647.4L1351.0,647.7L1353.0,647.9L1355.0,648.2L1357.0,648.4L1359.0,648.6L1360.9,648.9L1362.9,649.1L1364.9,649.3L1366.9,649.5L1368.9,649.7L1370.9,649.9L1372.9,650.1L1374.9,650.3L1376.9,650.5L1378.9,650.6L1380.9,650.8L1382.9,651.0L1384.9,651.1L1386.9,651.3L1388.9,651.4L1390.9,651.5L1392.9,651.7L1394.9,651.8L1396.9,651.9L1398.9,652.0L1400.9,652.1L1402.9,652.2L1404.9,652.3L1406.9,652.4L1408.9,652.5L1411.0,652.5L1413.0,652.6L1415.0,652.7L1417.0,652.7L1419.0,652.8L1421.0,652.9L1423.0,652.9L1425.0,653.0L1427.0,653.1L1429.0,653.1L1431.1,653.2L1433.1,653.3L1435.1,653.3L1437.1,653.4L1439.1,653.5L1441.1,653.5L1443.1,653.6L1445.1,653.7L1447.1,653.8L1449.1,653.9L1451.1,654.0L1453.1,654.1L1455.1,654.2L1457.1,654.4L1459.1,654.5L1461.1,654.7L1463.1,654.8L1465.1,655.0L1467.1,655.1L1469.1,655.3L1471.1,655.5L1473.1,655.7L1475.1,656.0L1477.0,656.2L1479.0,656.4L1481.0,656.7" fill="none" stroke="#008080" stroke-width="5.2" stroke-linejoin="round" stroke-linecap="butt"/>
<path d="M195.0,118.0L197.0,118.0L199.0,118.0L201.0,118.0L203.0,117.9L205.0,117.9L207.0,117.9L209.0,117.9L211.0,117.9L213.0,117.9L215.0,117.9L217.0,117.8L219.0,117.8L221.0,117.8L223.0,117.8L225.0,117.8L227.0,117.8L229.0,117.8L231.0,117.8L233.0,117.7L235.0,117.7L237.0,117.7L239.0,117.7L241.1,117.7L243.1,117.7L245.1,117.7L247.1,117.7L249.1,117.6L251.1,117.6L253.1,117.6L255.1,117.6L257.1,117.6L259.1,117.6L261.1,117.6L263.1,117.6L265.1,117.5L267.1,117.5L269.1,117.5L271.1,117.5L273.1,117.5L275.1,117.5L277.1,117.5L279.1,117.5L281.1,117.5L283.1,117.4L285.1,117.4L287.1,117.4L289.1,117.4L291.2,117.4L293.2,117.4L295.2,117.4L297.2,117.4L299.2,117.4L301.2,117.3L303.2,117.3L305.2,117.3L307.2,117.3L309.2,117.3L311.2,117.3L313.2,117.3L315.2,117.3L317.2,117.3L319.2,117.2L321.2,117.2L323.2,117.2L325.2,117.2L327.2,117.2L329.3,117.2L331.3,117.2L333.3,117.2L335.3,117.2L337.3,117.1L339.3,117.1L341.3,117.1L343.3,117.1L345.3,117.1L347.3,117.1L349.3,117.1L351.3,117.1L353.3,117.1L355.3,117.0L357.3,117.0L359.3,117.0L361.3,117.0L363.4,117.0L365.4,117.0L367.4,117.0L369.4,117.0L371.4,116.9L373.4,116.9L375.4,116.9L377.4,116.9L379.4,116.9L381.4,116.9L383.4,116.9L385.4,116.8L387.4,116.8L389.4,116.8L391.4,116.8L393.5,116.8L395.5,116.8L397.5,116.8L399.5,116.7L401.5,116.7L403.5,116.7L405.5,116.7L407.5,116.7L409.5,116.7L411.5,116.6L413.5,116.6L415.5,116.6L417.5,116.6L419.5,116.6L421.5,116.6L423.6,116.5L425.6,116.5L427.6,116.5L429.6,116.5L431.6,116.5L433.6,116.5L435.6,116.4L437.6,116.4L439.6,116.4L441.6,116.4L443.6,116.4L445.6,116.3L447.6,116.3L449.6,116.3L451.6,116.3L453.6,116.3L455.7,116.2L457.7,116.2L459.7,116.2L461.7,116.2L463.7,116.1L465.7,116.1L467.7,116.1L469.7,116.1L471.7,116.0L473.7,116.0L475.7,116.0L477.7,116.0L479.7,116.0L481.7,115.9L483.7,115.9L485.8,115.9L487.8,115.9L489.8,115.8L491.8,115.8L493.8,115.8L495.8,115.7L497.8,115.7L499.8,115.7L501.8,115.7L503.8,115.6L505.8,115.6L507.8,115.6L509.8,115.5L511.8,115.5L513.8,115.5L515.8,115.5L517.8,115.4L519.9,115.4L521.9,115.4L523.9,115.3L525.9,115.3L527.9,115.3L529.9,115.2L531.9,115.2L533.9,115.2L535.9,115.1L537.9,115.1L539.9,115.1L541.9,115.0L543.9,115.0L545.9,114.9L547.9,114.9L549.9,114.9L551.9,114.8L553.9,114.8L556.0,114.8L558.0,114.7L560.0,114.7L562.0,114.6L564.0,114.6L566.0,114.6L568.0,114.5L570.0,114.5L572.0,114.4L574.0,114.4L576.0,114.3L578.0,114.3L580.0,114.3L582.0,114.2L584.0,114.2L586.0,114.1L588.0,114.1L590.0,114.0L592.0,114.0L594.0,113.9L596.0,113.9L598.0,113.8L600.0,113.8L602.0,113.7L604.0,113.7L606.1,113.6L608.1,113.6L610.1,113.5L612.1,113.5L614.1,113.4L616.1,113.4L618.1,113.3L620.1,113.3L622.1,113.2L624.1,113.2L626.1,113.1L628.1,113.0L630.1,113.0L632.1,112.9L634.1,112.9L636.1,112.8L638.1,112.8L640.1,112.7L642.1,112.6L644.1,112.6L646.1,112.5L648.1,112.5L650.1,112.4L652.1,112.3L654.1,112.3L656.1,112.2L658.1,112.1L660.1,112.1L662.1,112.0L664.1,111.9L666.1,111.9L668.1,111.8L670.1,111.7L672.1,111.7L674.1,111.6L676.1,111.5L678.1,111.5L680.1,111.4L682.1,111.3L684.1,111.2L686.1,111.2L688.1,111.1L690.1,111.0L692.1,110.9L694.1,110.9L696.1,110.8L698.1,110.7L700.1,110.6L702.1,110.6L704.1,110.5L706.1,110.4L708.1,110.4L710.1,110.3L712.1,110.2L714.1,110.1L716.1,110.1L718.1,110.0L720.1,109.9L722.1,109.9L724.1,109.8L726.1,109.7L728.1,109.7L730.1,109.6L732.1,109.5L734.1,109.5L736.1,109.4L738.1,109.3L740.1,109.3L742.1,109.2L744.1,109.2L746.1,109.1L748.1,109.1L750.1,109.0L752.1,109.0L754.1,108.9L756.1,108.9L758.1,108.8L760.1,108.8L762.1,108.7L764.1,108.7L766.1,108.7L768.1,108.6L770.1,108.6L772.1,108.6L774.1,108.5L776.1,108.5L778.1,108.5L780.1,108.5L782.1,108.4L784.1,108.4L786.1,108.4L788.1,108.4L790.1,108.4L792.1,108.4L794.1,108.4L796.2,108.4L798.2,108.4L800.2,108.4L802.2,108.4L804.2,108.4L806.2,108.4L808.2,108.4L810.2,108.4L812.2,108.5L814.2,108.5L816.2,108.5L818.2,108.6L820.2,108.6L822.2,108.6L824.3,108.7L826.3,108.7L828.3,108.8L830.3,108.8L832.3,108.9L834.3,109.0L836.3,109.0L838.3,109.1L840.3,109.2L842.4,109.3L844.4,109.4L846.4,109.4L848.4,109.5L850.4,109.6L852.4,109.7L854.4,109.9L856.5,110.0L858.5,110.1L860.5,110.2L862.5,110.3L864.5,110.5L866.6,110.6L868.6,110.7L870.6,110.9L872.6,111.0L874.6,111.2L876.7,111.4L878.7,111.5L880.7,111.7L882.7,111.9L884.7,112.1L886.8,112.2L888.8,112.4L890.8,112.6L892.8,112.8L894.9,113.1L896.9,113.3L898.9,113.5L900.9,113.8L902.9,114.0L904.9,114.3L906.9,114.6L908.9,114.9L910.9,115.2L912.9,115.6L914.9,116.0L916.8,116.4L918.8,116.8L920.7,117.3L922.6,117.8L924.5,118.3L926.4,118.8L928.3,119.4L930.1,120.0L932.0,120.7L933.8,121.4L935.6,122.2L937.4,123.0L939.1,123.8L940.9,124.7L942.6,125.6L944.2,126.6L945.9,127.6L947.5,128.6L949.1,129.7L950.7,130.8L952.3,132.0L953.8,133.2L955.3,134.4L956.8,135.7L958.2,137.0L959.6,138.4L961.0,139.7L962.3,141.2L963.7,142.6L964.9,144.1L966.2,145.6L967.4,147.1L968.6,148.7L969.7,150.3L970.8,151.9L971.9,153.6L973.0,155.2L974.0,156.9L975.0,158.7L975.9,160.4L976.8,162.2L977.7,164.0L978.6,165.8L979.4,167.6L980.3,169.5L981.1,171.3L981.8,173.2L982.6,175.1L983.3,177.0L984.0,178.9L984.7,180.9L985.3,182.8L986.0,184.8L986.6,186.7L987.2,188.7L987.8,190.7L988.4,192.7L988.9,194.7L989.5,196.7L990.0,198.7L990.5,200.7L991.0,202.7L991.5,204.7L992.0,206.7L992.4,208.7L992.9,210.7L993.3,212.7L993.8,214.7L994.2,216.7L994.6,218.7L995.0,220.7L995.5,222.7L995.9,224.6L996.2,226.6L996.6,228.6L997.0,230.6L997.4,232.5L997.8,234.5L998.1,236.5L998.5,238.5L998.9,240.4L999.2,242.4L999.6,244.4L999.9,246.3L1000.2,248.3L1000.6,250.3L1000.9,252.2L1001.2,254.2L1001.6,256.1L1001.9,258.1L1002.2,260.1L1002.5,262.0L1002.8,264.0L1003.2,266.0L1003.5,267.9L1003.8,269.9L1004.1,271.9L1004.4,273.8L1004.7,275.8L1005.0,277.7L1005.4,279.7L1005.7,281.7L1006.0,283.6L1006.3,285.6L1006.6,287.6L1006.9,289.5L1007.2,291.5L1007.5,293.5L1007.8,295.4L1008.1,297.4L1008.5,299.4L1008.8,301.3L1009.1,303.3L1009.4,305.3L1009.7,307.2L1010.0,309.2L1010.3,311.2L1010.7,313.1L1011.0,315.1L1011.3,317.1L1011.6,319.0L1012.0,321.0L1012.3,323.0L1012.6,324.9L1013.0,326.9L1013.3,328.9L1013.7,330.8L1014.0,332.8L1014.4,334.8L1014.7,336.7L1015.1,338.7L1015.4,340.7L1015.8,342.6L1016.1,344.6L1016.5,346.6L1016.9,348.5L1017.3,350.5L1017.7,352.5L1018.0,354.4L1018.4,356.4L1018.8,358.4L1019.2,360.3L1019.7,362.3L1020.1,364.3L1020.5,366.2L1020.9,368.2L1021.3,370.2L1021.8,372.1L1022.2,374.1L1022.7,376.1L1023.1,378.0L1023.6,380.0L1024.1,382.0L1024.5,383.9L1025.0,385.9L1025.5,387.9L1026.0,389.8L1026.5,391.8L1027.0,393.7L1027.5,395.7L1028.0,397.7L1028.6,399.6L1029.1,401.6L1029.7,403.6L1030.2,405.5L1030.8,407.5L1031.4,409.4L1032.0,411.4L1032.6,413.3L1033.2,415.3L1033.8,417.2L1034.4,419.1L1035.1,421.1L1035.7,423.0L1036.4,424.9L1037.0,426.8L1037.7,428.7L1038.4,430.6L1039.1,432.5L1039.9,434.4L1040.6,436.3L1041.3,438.2L1042.1,440.0L1042.9,441.9L1043.7,443.8L1044.5,445.6L1045.3,447.4L1046.1,449.3L1047.0,451.1L1047.8,452.9L1048.7,454.7L1049.6,456.4L1050.5,458.2L1051.5,460.0L1052.4,461.7L1053.4,463.5L1054.4,465.2L1055.4,466.9L1056.4,468.6L1057.4,470.3L1058.5,471.9L1059.5,473.6L1060.6,475.2L1061.7,476.8L1062.9,478.5L1064.0,480.0L1065.2,481.6L1066.4,483.2L1067.6,484.7L1068.8,486.3L1070.1,487.8L1071.3,489.3L1072.6,490.7L1073.9,492.2L1075.3,493.6L1076.6,495.1L1078.0,496.5L1079.4,497.8L1080.8,499.2L1082.3,500.5L1083.7,501.9L1085.2,503.2L1086.7,504.5L1088.2,505.8L1089.8,507.0L1091.3,508.3L1092.9,509.5L1094.4,510.8L1096.0,512.0L1097.6,513.2L1099.3,514.4L1100.9,515.5L1102.5,516.7L1104.2,517.9L1105.9,519.0L1107.5,520.1L1109.2,521.3L1110.9,522.4L1112.6,523.5L1114.3,524.6L1116.0,525.7L1117.7,526.7L1119.5,527.8L1121.2,528.9L1122.9,529.9L1124.7,531.0L1126.4,532.0L1128.2,533.1L1129.9,534.1L1131.7,535.2L1133.4,536.2L1135.2,537.2L1136.9,538.2L1138.7,539.3L1140.4,540.3L1142.2,541.3L1143.9,542.3L1145.7,543.3L1147.4,544.3L1149.2,545.3L1151.0,546.3L1152.7,547.2L1154.5,548.2L1156.3,549.2L1158.0,550.2L1159.8,551.1L1161.6,552.1L1163.3,553.1L1165.1,554.0L1166.9,555.0L1168.7,555.9L1170.4,556.9L1172.2,557.8L1174.0,558.7L1175.8,559.7L1177.6,560.6L1179.3,561.5L1181.1,562.4L1182.9,563.3L1184.7,564.3L1186.5,565.2L1188.3,566.1L1190.1,567.0L1191.9,567.9L1193.7,568.8L1195.4,569.6L1197.2,570.5L1199.0,571.4L1200.8,572.3L1202.6,573.2L1204.4,574.0L1206.3,574.9L1208.1,575.8L1209.9,576.6L1211.7,577.5L1213.5,578.3L1215.3,579.2L1217.1,580.0L1218.9,580.9L1220.7,581.7L1222.5,582.5L1224.4,583.4L1226.2,584.2L1228.0,585.0L1229.8,585.8L1231.7,586.6L1233.5,587.5L1235.3,588.3L1237.1,589.1L1239.0,589.9L1240.8,590.7L1242.6,591.5L1244.5,592.3L1246.3,593.0L1248.1,593.8L1250.0,594.6L1251.8,595.4L1253.7,596.2L1255.5,596.9L1257.3,597.7L1259.2,598.5L1261.0,599.2L1262.9,600.0L1264.7,600.7L1266.6,601.5L1268.4,602.2L1270.3,603.0L1272.1,603.7L1274.0,604.5L1275.9,605.2L1277.7,605.9L1279.6,606.7L1281.4,607.4L1283.3,608.1L1285.2,608.8L1287.0,609.5L1288.9,610.2L1290.8,611.0L1292.7,611.7L1294.5,612.4L1296.4,613.1L1298.3,613.8L1300.2,614.5L1302.0,615.1L1303.9,615.8L1305.8,616.5L1307.7,617.2L1309.6,617.9L1311.5,618.6L1313.3,619.2L1315.2,619.9L1317.1,620.6L1319.0,621.3L1320.9,621.9L1322.8,622.6L1324.7,623.2L1326.6,623.9L1328.5,624.6L1330.4,625.2L1332.3,625.9L1334.2,626.5L1336.1,627.2L1338.0,627.8L1339.9,628.5L1341.8,629.1L1343.7,629.7L1345.6,630.4L1347.5,631.0L1349.4,631.7L1351.3,632.3L1353.2,632.9L1355.1,633.6L1357.0,634.2L1358.9,634.8L1360.8,635.4L1362.7,636.1L1364.7,636.7L1366.6,637.3L1368.5,637.9L1370.4,638.6L1372.3,639.2L1374.2,639.8L1376.1,640.4L1378.0,641.0L1379.9,641.7L1381.9,642.3L1383.8,642.9L1385.7,643.5L1387.6,644.1L1389.5,644.7L1391.4,645.4L1393.3,646.0L1395.3,646.6L1397.2,647.2L1399.1,647.8L1401.0,648.4L1402.9,649.0L1404.8,649.6L1406.7,650.3L1408.6,650.9L1410.6,651.5L1412.5,652.1L1414.4,652.7L1416.3,653.3L1418.2,653.9L1420.1,654.5L1422.0,655.1L1423.9,655.8L1425.9,656.4L1427.8,657.0L1429.7,657.6L1431.6,658.2L1433.5,658.8L1435.4,659.4L1437.3,660.0L1439.2,660.7L1441.1,661.3L1443.0,661.9L1444.9,662.5L1446.8,663.1L1448.8,663.8L1450.7,664.4L1452.6,665.0L1454.5,665.6L1456.4,666.3L1458.3,666.9L1460.2,667.5L1462.1,668.1L1464.0,668.8L1465.9,669.4L1467.8,670.0L1469.7,670.7L1471.5,671.3L1473.4,671.9L1475.3,672.6L1477.2,673.2L1479.1,673.9L1481.0,674.5" fill="none" stroke="#ff00ff" stroke-width="5.2" stroke-linejoin="round" stroke-linecap="butt"/>
</g>
<line x1="694" y1="215.9" x2="931.4" y2="215.9" stroke="#000" stroke-width="8.6"/>
<polygon points="669.3,215.9 696.5,202.8 696.5,229" fill="#000"/>
<line x1="1018.4" y1="783.3" x2="1256" y2="783.3" stroke="#000" stroke-width="8.6"/>
<polygon points="1280.5,783.3 1255,770.2 1255,796.5" fill="#000"/>
<g font-family="Liberation Sans, Arial, sans-serif" font-weight="bold" font-size="55.5" fill="#000">
<text transform="translate(175.6,1006.0) scale(0.955,1)" text-anchor="end">40</text>
<text transform="translate(175.6,713.9) scale(0.955,1)" text-anchor="end">60</text>
<text transform="translate(175.6,421.8) scale(0.955,1)" text-anchor="end">80</text>
<text transform="translate(175.6,129.6) scale(0.955,1)" text-anchor="end">100</text>
<text transform="translate(1505.5,1006.0) scale(0.955,1)">0.0</text>
<text transform="translate(1505.5,816.1) scale(0.955,1)">0.4</text>
<text transform="translate(1505.5,626.2) scale(0.955,1)">0.8</text>
<text transform="translate(1505.5,436.4) scale(0.955,1)">1.2</text>
<text transform="translate(1505.5,246.5) scale(0.955,1)">1.6</text>
<text transform="translate(1505.5,56.6) scale(0.955,1)">2.0</text>
<text transform="translate(454.1,1052.2) scale(0.955,1)" text-anchor="middle">200</text>
<text transform="translate(797.9,1052.2) scale(0.955,1)" text-anchor="middle">400</text>
<text transform="translate(1141.7,1052.2) scale(0.955,1)" text-anchor="middle">600</text>
<text transform="translate(1485.5,1052.2) scale(0.955,1)" text-anchor="middle">800</text>
</g>
<g font-family="Liberation Sans, Arial, sans-serif" font-weight="bold" font-size="56.6" fill="#000">
<line x1="283" y1="585.7" x2="391.5" y2="585.7" stroke="#000000" stroke-width="5.2"/>
<text x="404.7" y="600.3">Neat PI</text>
<line x1="283" y1="658.0" x2="391.5" y2="658.0" stroke="#ff0000" stroke-width="5.2"/>
<text x="404.7" y="672.6">PI/EFG 0.1 wt%</text>
<line x1="283" y1="730.3" x2="391.5" y2="730.3" stroke="#0000ff" stroke-width="5.2"/>
<text x="404.7" y="744.9">PI/EFG 0.5 wt%</text>
<line x1="283" y1="802.6" x2="391.5" y2="802.6" stroke="#008080" stroke-width="5.2"/>
<text x="404.7" y="817.2">PI/EFG 1 wt%</text>
<line x1="283" y1="874.9" x2="391.5" y2="874.9" stroke="#ff00ff" stroke-width="5.2"/>
<text x="404.7" y="889.5">PI/EFG 3 wt%</text>
</g>
<text x="742.0" y="285.6" font-family="Liberation Sans, Arial, sans-serif" font-weight="bold" font-size="59.0">TGA</text>
<text x="1084.9" y="851.2" font-family="Liberation Sans, Arial, sans-serif" font-weight="bold" font-size="59.0">DTA</text>
<text transform="translate(61.5,518.8) rotate(-90)" text-anchor="middle" font-family="Liberation Sans, Arial, sans-serif" font-weight="bold" font-size="66">Weight (%)</text><text x="583.5" y="1135.6" font-family="Liberation Sans, Arial, sans-serif" font-weight="bold" font-size="66">Temperature (<tspan font-size="44" dx="2" dy="-18.5">o</tspan><tspan dx="1.5" dy="18.5">C)</tspan></text><text transform="translate(1650,531) rotate(90)" text-anchor="middle" font-family="Liberation Sans, Arial, sans-serif" font-weight="bold" font-size="65.5">Derivative of Weight (%/ <tspan font-size="44" dx="2" dy="-18.5">o</tspan><tspan dx="1.5" dy="18.5">C)</tspan></text>
</svg></body></html>
